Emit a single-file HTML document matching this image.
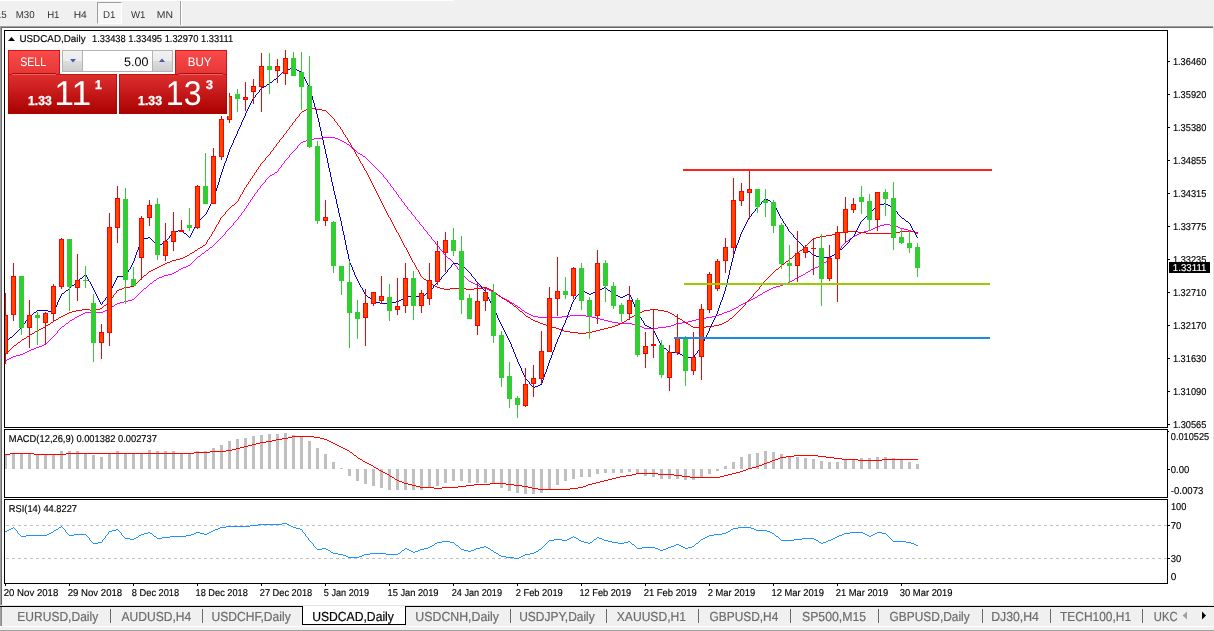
<!DOCTYPE html>
<html><head><meta charset="utf-8"><title>USDCAD,Daily</title>
<style>
html,body{margin:0;padding:0;background:#fff;}
body{width:1214px;height:631px;position:relative;overflow:hidden;font-family:"Liberation Sans",sans-serif;}
div{position:absolute;white-space:nowrap;}
svg{position:absolute;left:0;top:0;}
svg text{font-family:"Liberation Sans",sans-serif;text-rendering:geometricPrecision;}
</style></head><body>
<div style="left:0;top:0;width:1214px;height:26px;background:#f0f0f0;"></div>
<div style="left:0;top:0;width:454px;height:1px;background:#fff;"></div>
<div style="left:97px;top:2px;width:25px;height:22px;background:#f7f7f7;border-top:1px solid #a0a0a0;border-left:1px solid #a0a0a0;border-right:1px solid #fff;border-bottom:1px solid #fff;box-sizing:border-box"></div>
<div style="left:180px;top:1px;width:1px;height:24px;background:#a0a0a0"></div>
<div style="left:181px;top:1px;width:1px;height:24px;background:#fff"></div>
<div style="left:0;top:26px;width:1213px;height:1px;background:#a0a0a0"></div>
<div style="left:1px;top:27px;width:1212px;height:1px;background:#696969"></div>
<div style="left:0;top:26px;width:1px;height:580px;background:#a0a0a0"></div>
<div style="left:1px;top:27px;width:1px;height:579px;background:#696969"></div>
<div style="left:1213px;top:26px;width:1px;height:580px;background:#e3e3e3"></div>
<div style="left:0;top:605px;width:1214px;height:1px;background:#e3e3e3"></div>
<div style="left:0;top:606px;width:1214px;height:20px;background:#f0f0f0;"></div>
<div style="left:0;top:606px;width:1214px;height:1px;background:#000"></div>
<div style="left:0;top:626px;width:1214px;height:1px;background:#fff"></div>
<div style="left:0;top:627px;width:1214px;height:3px;background:#f0f0f0"></div>
<div style="left:0;top:630px;width:1214px;height:1px;background:#a0a0a0"></div>
<div style="left:0;top:607px;width:1px;height:19px;background:#a0a0a0"></div>
<div style="left:1px;top:607px;width:1px;height:19px;background:#8a8a8a"></div>
<div style="left:302px;top:606px;width:104px;height:19px;background:#fff;border-left:1px solid #000;border-right:1px solid #000;border-bottom:1px solid #000;box-sizing:border-box"></div>
<div style="left:1178px;top:607px;width:36px;height:19px;background:#f0f0f0"></div>
<svg width="1214" height="631" viewBox="0 0 1214 631" shape-rendering="crispEdges">
<defs><clipPath id="cp"><rect x="5" y="31" width="1162" height="396"/></clipPath>
<clipPath id="ukc"><rect x="1150" y="606" width="27" height="20"/></clipPath></defs>
<!-- panel borders -->
<g fill="none" stroke="#000" stroke-width="1">
<rect x="4.5" y="30.5" width="1163" height="397"/>
<rect x="4.5" y="429.5" width="1163" height="68"/>
<rect x="4.5" y="499.5" width="1163" height="84"/>
</g>
<rect x="1168" y="61" width="2" height="1" fill="#000"/><rect x="1168" y="94" width="2" height="1" fill="#000"/><rect x="1168" y="127" width="2" height="1" fill="#000"/><rect x="1168" y="160" width="2" height="1" fill="#000"/><rect x="1168" y="193" width="2" height="1" fill="#000"/><rect x="1168" y="226" width="2" height="1" fill="#000"/><rect x="1168" y="259" width="2" height="1" fill="#000"/><rect x="1168" y="292" width="2" height="1" fill="#000"/><rect x="1168" y="325" width="2" height="1" fill="#000"/><rect x="1168" y="358" width="2" height="1" fill="#000"/><rect x="1168" y="391" width="2" height="1" fill="#000"/><rect x="1168" y="424" width="2" height="1" fill="#000"/><rect x="1168" y="431" width="1" height="1" fill="#000"/><rect x="1168" y="469" width="2" height="1" fill="#000"/><rect x="1168" y="525" width="2" height="1" fill="#000"/><rect x="1168" y="558" width="2" height="1" fill="#000"/><rect x="5" y="584" width="1" height="2" fill="#000"/><rect x="69" y="584" width="1" height="2" fill="#000"/><rect x="133" y="584" width="1" height="2" fill="#000"/><rect x="197" y="584" width="1" height="2" fill="#000"/><rect x="261" y="584" width="1" height="2" fill="#000"/><rect x="325" y="584" width="1" height="2" fill="#000"/><rect x="389" y="584" width="1" height="2" fill="#000"/><rect x="453" y="584" width="1" height="2" fill="#000"/><rect x="517" y="584" width="1" height="2" fill="#000"/><rect x="581" y="584" width="1" height="2" fill="#000"/><rect x="645" y="584" width="1" height="2" fill="#000"/><rect x="709" y="584" width="1" height="2" fill="#000"/><rect x="773" y="584" width="1" height="2" fill="#000"/><rect x="837" y="584" width="1" height="2" fill="#000"/><rect x="901" y="584" width="1" height="2" fill="#000"/>
<rect x="110" y="609" width="1" height="14" fill="#6a6a6a"/><rect x="202" y="609" width="1" height="14" fill="#6a6a6a"/><rect x="510" y="609" width="1" height="14" fill="#6a6a6a"/><rect x="606" y="609" width="1" height="14" fill="#6a6a6a"/><rect x="698" y="609" width="1" height="14" fill="#6a6a6a"/><rect x="790" y="609" width="1" height="14" fill="#6a6a6a"/><rect x="878" y="609" width="1" height="14" fill="#6a6a6a"/><rect x="982" y="609" width="1" height="14" fill="#6a6a6a"/><rect x="1050" y="609" width="1" height="14" fill="#6a6a6a"/><rect x="1142" y="609" width="1" height="14" fill="#6a6a6a"/>
<g clip-path="url(#cp)">
<path fill="#ff00ff" d="M5 360h2v1h-2zM7 359h2v1h-2zM9 358h2v1h-2zM11 357h2v1h-2zM13 356h3v1h-3zM16 355h4v1h-4zM20 354h3v1h-3zM23 353h2v1h-2zM25 352h2v1h-2zM27 351h2v1h-2zM29 350h2v1h-2zM31 349h3v1h-3zM34 348h2v1h-2zM36 347h3v1h-3zM39 346h3v1h-3zM42 345h2v1h-2zM44 344h2v1h-2zM46 343h1v1h-1zM47 342h1v1h-1zM48 341h1v1h-1zM49 340h1v1h-1zM50 339h1v1h-1zM51 338h1v1h-1zM52 337h1v1h-1zM53 336h1v1h-1zM54 335h1v1h-1zM55 334h1v1h-1zM56 333h1v1h-1zM57 331h1v2h-1zM58 330h1v1h-1zM59 329h1v1h-1zM60 328h1v1h-1zM61 327h1v1h-1zM62 326h2v1h-2zM64 325h1v1h-1zM65 324h1v1h-1zM66 323h2v1h-2zM68 322h1v1h-1zM69 321h1v1h-1zM70 320h2v1h-2zM72 319h2v1h-2zM74 318h1v1h-1zM75 317h2v1h-2zM77 316h2v1h-2zM79 315h2v1h-2zM81 314h2v1h-2zM83 313h2v1h-2zM85 312h18v1h-18zM103 311h2v1h-2zM105 310h2v1h-2zM107 309h2v1h-2zM109 308h1v1h-1zM110 307h2v1h-2zM112 306h2v1h-2zM114 305h1v1h-1zM115 304h2v1h-2zM117 303h3v1h-3zM120 302h4v1h-4zM124 301h4v1h-4zM128 300h4v1h-4zM132 299h2v1h-2zM134 298h1v1h-1zM135 297h1v1h-1zM136 296h1v1h-1zM137 295h1v1h-1zM138 294h1v1h-1zM139 293h1v1h-1zM140 292h1v1h-1zM141 291h1v1h-1zM142 290h1v1h-1zM143 289h1v1h-1zM144 288h2v1h-2zM146 287h1v1h-1zM147 286h1v1h-1zM148 285h1v1h-1zM149 284h1v1h-1zM150 283h2v1h-2zM152 282h1v1h-1zM153 281h1v1h-1zM154 280h2v1h-2zM156 279h1v1h-1zM157 278h2v1h-2zM159 277h3v1h-3zM162 276h2v1h-2zM164 275h4v1h-4zM168 274h4v1h-4zM172 273h2v1h-2zM174 272h2v1h-2zM176 271h2v1h-2zM178 270h1v1h-1zM179 269h2v1h-2zM181 268h2v1h-2zM183 267h3v1h-3zM186 266h2v1h-2zM188 265h2v1h-2zM190 264h1v1h-1zM191 263h1v1h-1zM192 262h1v1h-1zM193 261h1v1h-1zM194 260h1v1h-1zM195 259h1v1h-1zM196 258h1v1h-1zM197 257h1v1h-1zM198 256h2v1h-2zM200 255h1v1h-1zM201 254h1v1h-1zM202 253h2v1h-2zM204 252h1v1h-1zM205 251h1v1h-1zM206 250h2v1h-2zM208 249h1v1h-1zM209 248h1v1h-1zM210 247h2v1h-2zM212 246h1v1h-1zM213 245h1v1h-1zM214 244h1v1h-1zM215 243h1v1h-1zM216 242h1v1h-1zM217 241h1v1h-1zM218 240h1v1h-1zM219 239h1v1h-1zM220 238h1v1h-1zM221 237h1v1h-1zM222 236h1v1h-1zM223 235h1v1h-1zM224 234h1v1h-1zM225 232h1v2h-1zM226 231h1v1h-1zM227 230h1v1h-1zM228 229h1v1h-1zM229 228h1v1h-1zM230 227h1v1h-1zM231 226h1v1h-1zM232 225h1v1h-1zM233 223h1v2h-1zM234 222h1v1h-1zM235 221h1v1h-1zM236 220h1v1h-1zM237 219h1v1h-1zM238 217h1v2h-1zM239 216h1v1h-1zM240 215h1v1h-1zM241 213h1v2h-1zM242 212h1v1h-1zM243 211h1v1h-1zM244 209h1v2h-1zM245 208h1v1h-1zM246 206h1v2h-1zM247 205h1v1h-1zM248 203h1v2h-1zM249 202h1v1h-1zM250 200h1v2h-1zM251 199h1v1h-1zM252 197h1v2h-1zM253 196h1v1h-1zM254 194h1v2h-1zM255 193h1v1h-1zM256 192h1v1h-1zM257 190h1v2h-1zM258 189h1v1h-1zM259 188h1v1h-1zM260 186h1v2h-1zM261 185h1v1h-1zM262 184h1v1h-1zM263 183h1v1h-1zM264 182h1v1h-1zM265 180h1v2h-1zM266 179h1v1h-1zM267 178h1v1h-1zM268 177h1v1h-1zM269 176h1v1h-1zM270 175h2v1h-2zM272 174h2v1h-2zM274 173h1v1h-1zM275 172h2v1h-2zM277 171h1v1h-1zM278 169h1v2h-1zM279 168h1v1h-1zM280 167h1v1h-1zM281 165h1v2h-1zM282 164h1v1h-1zM283 163h1v1h-1zM284 161h1v2h-1zM285 160h1v1h-1zM286 159h1v1h-1zM287 158h1v1h-1zM288 157h1v1h-1zM289 155h1v2h-1zM290 154h1v1h-1zM291 153h1v1h-1zM292 152h1v1h-1zM293 151h1v1h-1zM294 150h1v1h-1zM295 149h1v1h-1zM296 148h1v1h-1zM297 146h1v2h-1zM298 145h1v1h-1zM299 144h1v1h-1zM300 143h1v1h-1zM301 142h2v1h-2zM303 141h3v1h-3zM306 140h2v1h-2zM308 139h6v1h-6zM314 138h8v1h-8zM322 137h13v1h-13zM335 138h3v1h-3zM338 139h2v1h-2zM340 140h2v1h-2zM342 141h2v1h-2zM344 142h2v1h-2zM346 143h1v1h-1zM347 144h2v1h-2zM349 145h1v1h-1zM350 146h1v1h-1zM351 147h1v1h-1zM352 148h2v1h-2zM354 149h1v1h-1zM355 150h1v1h-1zM356 151h1v1h-1zM357 152h1v1h-1zM358 153h2v1h-2zM360 154h2v1h-2zM362 155h1v1h-1zM363 156h2v1h-2zM365 157h1v1h-1zM366 158h1v1h-1zM367 159h1v1h-1zM368 160h1v1h-1zM369 161h1v1h-1zM370 162h1v1h-1zM371 163h1v1h-1zM372 164h1v1h-1zM373 165h1v1h-1zM374 166h1v1h-1zM375 167h1v1h-1zM376 168h1v1h-1zM377 169h1v1h-1zM378 170h1v1h-1zM379 171h1v1h-1zM380 172h1v1h-1zM381 173h1v1h-1zM382 174h1v1h-1zM383 175h1v2h-1zM384 177h1v1h-1zM385 178h1v1h-1zM386 179h1v1h-1zM387 180h1v2h-1zM388 182h1v1h-1zM389 183h1v1h-1zM390 184h1v2h-1zM391 186h1v1h-1zM392 187h1v1h-1zM393 188h1v2h-1zM394 190h1v1h-1zM395 191h1v1h-1zM396 192h1v2h-1zM397 194h1v1h-1zM398 195h1v2h-1zM399 197h1v1h-1zM400 198h1v1h-1zM401 199h1v2h-1zM402 201h1v1h-1zM403 202h1v1h-1zM404 203h1v2h-1zM405 205h1v1h-1zM406 206h1v1h-1zM407 207h1v2h-1zM408 209h1v1h-1zM409 210h1v1h-1zM410 211h1v1h-1zM411 212h1v2h-1zM412 214h1v1h-1zM413 215h1v1h-1zM414 216h1v1h-1zM415 217h1v2h-1zM416 219h1v1h-1zM417 220h1v1h-1zM418 221h1v1h-1zM419 222h1v2h-1zM420 224h1v1h-1zM421 225h1v1h-1zM422 226h1v1h-1zM423 227h1v2h-1zM424 229h1v1h-1zM425 230h1v1h-1zM426 231h1v1h-1zM427 232h1v2h-1zM428 234h1v1h-1zM429 235h1v1h-1zM430 236h1v1h-1zM431 237h1v2h-1zM432 239h1v1h-1zM433 240h1v1h-1zM434 241h1v1h-1zM435 242h1v2h-1zM436 244h1v1h-1zM437 245h1v1h-1zM438 246h1v1h-1zM439 247h1v2h-1zM440 249h1v1h-1zM441 250h1v1h-1zM442 251h1v1h-1zM443 252h1v2h-1zM444 254h1v1h-1zM445 255h1v1h-1zM446 256h1v1h-1zM447 257h1v1h-1zM448 258h2v1h-2zM450 259h1v1h-1zM451 260h1v1h-1zM452 261h1v1h-1zM453 262h1v1h-1zM454 263h1v2h-1zM455 265h1v1h-1zM456 266h1v1h-1zM457 267h1v2h-1zM458 269h1v1h-1zM459 270h1v1h-1zM460 271h1v2h-1zM461 273h1v1h-1zM462 274h1v1h-1zM463 275h1v1h-1zM464 276h1v1h-1zM465 277h1v1h-1zM466 278h1v1h-1zM467 279h1v1h-1zM468 280h1v1h-1zM469 281h2v1h-2zM471 282h2v1h-2zM473 283h2v1h-2zM475 284h2v1h-2zM477 285h2v1h-2zM479 286h3v1h-3zM482 287h2v1h-2zM484 288h3v1h-3zM487 289h2v1h-2zM489 290h2v1h-2zM491 291h2v1h-2zM493 292h1v1h-1zM494 293h2v1h-2zM496 294h2v1h-2zM498 295h1v1h-1zM499 296h2v1h-2zM501 297h2v1h-2zM503 298h2v1h-2zM505 299h2v1h-2zM507 300h2v1h-2zM509 301h1v1h-1zM510 302h2v1h-2zM512 303h2v1h-2zM514 304h1v1h-1zM515 305h2v1h-2zM517 306h1v1h-1zM518 307h2v1h-2zM520 308h1v1h-1zM521 309h1v1h-1zM522 310h2v1h-2zM524 311h1v1h-1zM525 312h2v1h-2zM527 313h2v1h-2zM529 314h2v1h-2zM531 315h2v1h-2zM533 316h5v1h-5zM538 317h24v1h-24zM562 316h8v1h-8zM570 315h16v1h-16zM586 316h6v1h-6zM592 317h4v1h-4zM596 318h4v1h-4zM600 319h4v1h-4zM604 320h4v1h-4zM608 321h4v1h-4zM612 322h6v1h-6zM618 323h14v1h-14zM632 324h4v1h-4zM636 325h3v1h-3zM639 326h3v1h-3zM642 327h2v1h-2zM644 328h14v1h-14zM658 327h8v1h-8zM666 326h5v1h-5zM671 325h3v1h-3zM674 324h2v1h-2zM676 323h6v1h-6zM682 322h6v1h-6zM688 321h4v1h-4zM692 320h4v1h-4zM696 319h4v1h-4zM700 318h6v1h-6zM706 317h6v1h-6zM712 316h4v1h-4zM716 315h3v1h-3zM719 314h3v1h-3zM722 313h2v1h-2zM724 312h3v1h-3zM727 311h3v1h-3zM730 310h2v1h-2zM732 309h2v1h-2zM734 308h2v1h-2zM736 307h2v1h-2zM738 306h1v1h-1zM739 305h2v1h-2zM741 304h2v1h-2zM743 303h2v1h-2zM745 302h2v1h-2zM747 301h2v1h-2zM749 300h2v1h-2zM751 299h2v1h-2zM753 298h2v1h-2zM755 297h2v1h-2zM757 296h1v1h-1zM758 295h2v1h-2zM760 294h2v1h-2zM762 293h1v1h-1zM763 292h2v1h-2zM765 291h2v1h-2zM767 290h2v1h-2zM769 289h2v1h-2zM771 288h2v1h-2zM773 287h3v1h-3zM776 286h4v1h-4zM780 285h3v1h-3zM783 284h3v1h-3zM786 283h2v1h-2zM788 282h2v1h-2zM790 281h2v1h-2zM792 280h2v1h-2zM794 279h1v1h-1zM795 278h2v1h-2zM797 277h2v1h-2zM799 276h2v1h-2zM801 275h2v1h-2zM803 274h2v1h-2zM805 273h1v1h-1zM806 272h2v1h-2zM808 271h2v1h-2zM810 270h1v1h-1zM811 269h2v1h-2zM813 268h2v1h-2zM815 267h3v1h-3zM818 266h2v1h-2zM820 265h2v1h-2zM822 264h1v1h-1zM823 263h1v1h-1zM824 262h2v1h-2zM826 261h1v1h-1zM827 260h1v1h-1zM828 259h1v1h-1zM829 258h1v1h-1zM830 257h1v1h-1zM831 256h1v1h-1zM832 255h2v1h-2zM834 254h1v1h-1zM835 253h1v1h-1zM836 252h1v1h-1zM837 251h1v1h-1zM838 250h1v1h-1zM839 249h1v1h-1zM840 248h1v1h-1zM841 246h1v2h-1zM842 245h1v1h-1zM843 244h1v1h-1zM844 243h1v1h-1zM845 242h1v1h-1zM846 241h2v1h-2zM848 240h1v1h-1zM849 239h1v1h-1zM850 238h2v1h-2zM852 237h1v1h-1zM853 236h2v1h-2zM855 235h2v1h-2zM857 234h2v1h-2zM859 233h2v1h-2zM861 232h3v1h-3zM864 231h4v1h-4zM868 230h3v1h-3zM871 229h2v1h-2zM873 228h2v1h-2zM875 227h2v1h-2zM877 226h3v1h-3zM880 225h4v1h-4zM884 224h6v1h-6zM890 225h5v1h-5zM895 226h3v1h-3zM898 227h2v1h-2zM900 228h4v1h-4zM904 229h4v1h-4zM908 230h3v1h-3zM911 231h3v1h-3zM914 232h2v1h-2zM916 233h2v1h-2z"/>
<path fill="#ff0000" d="M5 354h1v1h-1zM6 353h1v1h-1zM7 352h1v1h-1zM8 351h1v1h-1zM9 350h1v1h-1zM10 349h1v1h-1zM11 348h1v1h-1zM12 347h1v1h-1zM13 346h1v1h-1zM14 345h2v1h-2zM16 344h1v1h-1zM17 343h1v1h-1zM18 342h2v1h-2zM20 341h1v1h-1zM21 340h1v1h-1zM22 339h2v1h-2zM24 338h2v1h-2zM26 337h1v1h-1zM27 336h2v1h-2zM29 335h1v1h-1zM30 334h2v1h-2zM32 333h2v1h-2zM34 332h1v1h-1zM35 331h2v1h-2zM37 330h2v1h-2zM39 329h2v1h-2zM41 328h2v1h-2zM43 327h2v1h-2zM45 326h1v1h-1zM46 325h2v1h-2zM48 324h2v1h-2zM50 323h1v1h-1zM51 322h2v1h-2zM53 321h1v1h-1zM54 320h2v1h-2zM56 319h2v1h-2zM58 318h1v1h-1zM59 317h2v1h-2zM61 316h2v1h-2zM63 315h2v1h-2zM65 314h2v1h-2zM67 313h2v1h-2zM69 312h3v1h-3zM72 311h4v1h-4zM76 310h6v1h-6zM82 309h8v1h-8zM90 310h6v1h-6zM96 309h4v1h-4zM100 308h2v1h-2zM102 307h1v1h-1zM103 306h1v1h-1zM104 305h2v1h-2zM106 304h1v1h-1zM107 303h1v1h-1zM108 302h1v1h-1zM109 301h1v1h-1zM110 299h1v2h-1zM111 298h1v1h-1zM112 297h1v1h-1zM113 295h1v2h-1zM114 294h1v1h-1zM115 293h1v1h-1zM116 291h1v2h-1zM117 290h2v1h-2zM119 289h3v1h-3zM122 288h2v1h-2zM124 287h6v1h-6zM130 286h4v1h-4zM134 285h1v1h-1zM135 284h1v1h-1zM136 283h1v1h-1zM137 282h1v1h-1zM138 281h1v1h-1zM139 280h1v1h-1zM140 279h1v1h-1zM141 278h1v1h-1zM142 277h1v1h-1zM143 276h1v1h-1zM144 275h2v1h-2zM146 274h1v1h-1zM147 273h1v1h-1zM148 272h1v1h-1zM149 271h2v1h-2zM151 270h2v1h-2zM153 269h2v1h-2zM155 268h2v1h-2zM157 267h2v1h-2zM159 266h2v1h-2zM161 265h2v1h-2zM163 264h2v1h-2zM165 263h2v1h-2zM167 262h3v1h-3zM170 261h2v1h-2zM172 260h4v1h-4zM176 259h4v1h-4zM180 258h3v1h-3zM183 257h2v1h-2zM185 256h2v1h-2zM187 255h2v1h-2zM189 254h1v1h-1zM190 253h2v1h-2zM192 252h2v1h-2zM194 251h1v1h-1zM195 250h2v1h-2zM197 249h1v1h-1zM198 248h2v1h-2zM200 247h2v1h-2zM202 246h1v1h-1zM203 245h2v1h-2zM205 244h1v1h-1zM206 242h1v2h-1zM207 240h1v2h-1zM208 239h1v1h-1zM209 237h1v2h-1zM210 236h1v1h-1zM211 234h1v2h-1zM212 232h1v2h-1zM213 231h1v1h-1zM214 229h1v2h-1zM215 227h1v2h-1zM216 225h1v2h-1zM217 224h1v1h-1zM218 222h1v2h-1zM219 220h1v2h-1zM220 218h1v2h-1zM221 217h1v1h-1zM222 216h1v1h-1zM223 215h1v1h-1zM224 214h1v1h-1zM225 212h1v2h-1zM226 211h1v1h-1zM227 210h1v1h-1zM228 209h1v1h-1zM229 208h1v1h-1zM230 207h1v1h-1zM231 206h1v1h-1zM232 205h2v1h-2zM234 204h1v1h-1zM235 203h1v1h-1zM236 202h1v1h-1zM237 201h1v1h-1zM238 199h1v2h-1zM239 197h1v2h-1zM240 195h1v2h-1zM241 194h1v1h-1zM242 192h1v2h-1zM243 190h1v2h-1zM244 188h1v2h-1zM245 187h1v1h-1zM246 185h1v2h-1zM247 184h1v1h-1zM248 182h1v2h-1zM249 181h1v1h-1zM250 179h1v2h-1zM251 178h1v1h-1zM252 176h1v2h-1zM253 175h1v1h-1zM254 173h1v2h-1zM255 172h1v1h-1zM256 170h1v2h-1zM257 169h1v1h-1zM258 167h1v2h-1zM259 166h1v1h-1zM260 164h1v2h-1zM261 163h1v1h-1zM262 162h1v1h-1zM263 161h1v1h-1zM264 160h1v1h-1zM265 158h1v2h-1zM266 157h1v1h-1zM267 156h1v1h-1zM268 155h1v1h-1zM269 154h1v1h-1zM270 152h1v2h-1zM271 151h1v1h-1zM272 150h1v1h-1zM273 148h1v2h-1zM274 147h1v1h-1zM275 146h1v1h-1zM276 144h1v2h-1zM277 143h1v1h-1zM278 142h1v1h-1zM279 140h1v2h-1zM280 139h1v1h-1zM281 138h1v1h-1zM282 137h1v1h-1zM283 135h1v2h-1zM284 134h1v1h-1zM285 133h1v1h-1zM286 131h1v2h-1zM287 130h1v1h-1zM288 129h1v1h-1zM289 127h1v2h-1zM290 126h1v1h-1zM291 125h1v1h-1zM292 123h1v2h-1zM293 122h1v1h-1zM294 121h1v1h-1zM295 119h1v2h-1zM296 118h1v1h-1zM297 117h1v1h-1zM298 116h1v1h-1zM299 114h1v2h-1zM300 113h1v1h-1zM301 112h1v1h-1zM302 111h2v1h-2zM304 110h2v1h-2zM306 109h1v1h-1zM307 108h2v1h-2zM309 107h3v1h-3zM312 108h4v1h-4zM316 109h6v1h-6zM322 110h4v1h-4zM326 111h1v1h-1zM327 112h1v1h-1zM328 113h1v1h-1zM329 114h1v1h-1zM330 115h1v1h-1zM331 116h1v1h-1zM332 117h1v1h-1zM333 118h1v1h-1zM334 119h1v2h-1zM335 121h1v1h-1zM336 122h1v1h-1zM337 123h1v2h-1zM338 125h1v1h-1zM339 126h1v1h-1zM340 127h1v2h-1zM341 129h1v1h-1zM342 130h1v2h-1zM343 132h1v2h-1zM344 134h1v1h-1zM345 135h1v2h-1zM346 137h1v1h-1zM347 138h1v2h-1zM348 140h1v2h-1zM349 142h1v1h-1zM350 143h1v2h-1zM351 145h1v2h-1zM352 147h1v2h-1zM353 149h1v1h-1zM354 150h1v2h-1zM355 152h1v2h-1zM356 154h1v2h-1zM357 156h1v1h-1zM358 157h1v2h-1zM359 159h1v2h-1zM360 161h1v2h-1zM361 163h1v1h-1zM362 164h1v2h-1zM363 166h1v2h-1zM364 168h1v2h-1zM365 170h1v1h-1zM366 171h1v2h-1zM367 173h1v2h-1zM368 175h1v2h-1zM369 177h1v2h-1zM370 179h1v2h-1zM371 181h1v2h-1zM372 183h1v2h-1zM373 185h1v2h-1zM374 187h1v2h-1zM375 189h1v2h-1zM376 191h1v2h-1zM377 193h1v2h-1zM378 195h1v2h-1zM379 197h1v2h-1zM380 199h1v2h-1zM381 201h1v2h-1zM382 203h1v2h-1zM383 205h1v2h-1zM384 207h1v2h-1zM385 209h1v2h-1zM386 211h1v2h-1zM387 213h1v2h-1zM388 215h1v2h-1zM389 217h1v1h-1zM390 218h1v2h-1zM391 220h1v2h-1zM392 222h1v2h-1zM393 224h1v2h-1zM394 226h1v2h-1zM395 228h1v2h-1zM396 230h1v2h-1zM397 232h1v1h-1zM398 233h1v2h-1zM399 235h1v2h-1zM400 237h1v2h-1zM401 239h1v2h-1zM402 241h1v2h-1zM403 243h1v2h-1zM404 245h1v2h-1zM405 247h1v1h-1zM406 248h1v2h-1zM407 250h1v2h-1zM408 252h1v2h-1zM409 254h1v2h-1zM410 256h1v2h-1zM411 258h1v2h-1zM412 260h1v2h-1zM413 262h1v1h-1zM414 263h1v2h-1zM415 265h1v2h-1zM416 267h1v2h-1zM417 269h1v1h-1zM418 270h1v2h-1zM419 272h1v2h-1zM420 274h1v2h-1zM421 276h1v1h-1zM422 277h1v1h-1zM423 278h1v1h-1zM424 279h2v1h-2zM426 280h1v1h-1zM427 281h1v1h-1zM428 282h1v1h-1zM429 283h2v1h-2zM431 284h2v1h-2zM433 285h2v1h-2zM435 286h2v1h-2zM437 287h3v1h-3zM440 288h4v1h-4zM444 289h6v1h-6zM450 288h16v1h-16zM466 289h8v1h-8zM474 288h8v1h-8zM482 287h5v1h-5zM487 288h2v1h-2zM489 289h2v1h-2zM491 290h2v1h-2zM493 291h1v1h-1zM494 292h2v1h-2zM496 293h1v1h-1zM497 294h1v1h-1zM498 295h2v1h-2zM500 296h1v1h-1zM501 297h1v1h-1zM502 298h2v1h-2zM504 299h2v1h-2zM506 300h1v1h-1zM507 301h2v1h-2zM509 302h1v1h-1zM510 303h2v1h-2zM512 304h1v1h-1zM513 305h1v1h-1zM514 306h2v1h-2zM516 307h1v1h-1zM517 308h1v1h-1zM518 309h1v1h-1zM519 310h1v1h-1zM520 311h2v1h-2zM522 312h1v1h-1zM523 313h1v1h-1zM524 314h1v1h-1zM525 315h1v1h-1zM526 316h2v1h-2zM528 317h2v1h-2zM530 318h1v1h-1zM531 319h2v1h-2zM533 320h2v1h-2zM535 321h3v1h-3zM538 322h2v1h-2zM540 323h3v1h-3zM543 324h3v1h-3zM546 325h2v1h-2zM548 326h4v1h-4zM552 327h4v1h-4zM556 328h3v1h-3zM559 329h3v1h-3zM562 330h2v1h-2zM564 331h6v1h-6zM570 332h8v1h-8zM578 333h8v1h-8zM586 332h6v1h-6zM592 331h4v1h-4zM596 330h4v1h-4zM600 329h4v1h-4zM604 328h4v1h-4zM608 327h4v1h-4zM612 326h3v1h-3zM615 325h3v1h-3zM618 324h2v1h-2zM620 323h2v1h-2zM622 322h2v1h-2zM624 321h2v1h-2zM626 320h1v1h-1zM627 319h2v1h-2zM629 318h1v1h-1zM630 317h2v1h-2zM632 316h2v1h-2zM634 315h1v1h-1zM635 314h2v1h-2zM637 313h2v1h-2zM639 312h3v1h-3zM642 311h2v1h-2zM644 310h6v1h-6zM650 309h8v1h-8zM658 310h6v1h-6zM664 311h4v1h-4zM668 312h2v1h-2zM670 313h2v1h-2zM672 314h2v1h-2zM674 315h1v1h-1zM675 316h2v1h-2zM677 317h1v1h-1zM678 318h2v1h-2zM680 319h2v1h-2zM682 320h1v1h-1zM683 321h2v1h-2zM685 322h1v1h-1zM686 323h2v1h-2zM688 324h2v1h-2zM690 325h1v1h-1zM691 326h2v1h-2zM693 327h13v1h-13zM706 326h8v1h-8zM714 325h5v1h-5zM719 324h3v1h-3zM722 323h2v1h-2zM724 322h2v1h-2zM726 321h2v1h-2zM728 320h1v1h-1zM729 319h1v1h-1zM730 318h2v1h-2zM732 317h1v1h-1zM733 316h1v1h-1zM734 315h1v1h-1zM735 314h1v1h-1zM736 313h1v1h-1zM737 312h1v1h-1zM738 311h1v1h-1zM739 310h1v1h-1zM740 309h1v1h-1zM741 308h1v1h-1zM742 307h1v1h-1zM743 306h1v1h-1zM744 305h1v1h-1zM745 303h1v2h-1zM746 302h1v1h-1zM747 301h1v1h-1zM748 300h1v1h-1zM749 299h1v1h-1zM750 298h1v1h-1zM751 297h1v1h-1zM752 296h1v1h-1zM753 294h1v2h-1zM754 293h1v1h-1zM755 292h1v1h-1zM756 291h1v1h-1zM757 290h1v1h-1zM758 289h1v1h-1zM759 287h1v2h-1zM760 286h1v1h-1zM761 285h1v1h-1zM762 284h1v1h-1zM763 282h1v2h-1zM764 281h1v1h-1zM765 280h1v1h-1zM766 279h1v1h-1zM767 278h1v1h-1zM768 277h1v1h-1zM769 276h1v1h-1zM770 275h1v1h-1zM771 274h1v1h-1zM772 273h1v1h-1zM773 272h1v1h-1zM774 271h1v1h-1zM775 270h1v1h-1zM776 269h2v1h-2zM778 268h1v1h-1zM779 267h1v1h-1zM780 266h1v1h-1zM781 265h1v1h-1zM782 264h2v1h-2zM784 263h1v1h-1zM785 262h1v1h-1zM786 261h2v1h-2zM788 260h1v1h-1zM789 259h1v1h-1zM790 258h2v1h-2zM792 257h1v1h-1zM793 256h1v1h-1zM794 255h2v1h-2zM796 254h1v1h-1zM797 253h1v1h-1zM798 252h1v1h-1zM799 251h1v1h-1zM800 250h2v1h-2zM802 249h1v1h-1zM803 248h1v1h-1zM804 247h1v1h-1zM805 246h1v1h-1zM806 245h1v1h-1zM807 244h1v1h-1zM808 243h1v1h-1zM809 242h1v1h-1zM810 241h1v1h-1zM811 240h1v1h-1zM812 239h1v1h-1zM813 238h3v1h-3zM816 237h4v1h-4zM820 236h6v1h-6zM826 235h6v1h-6zM832 234h4v1h-4zM836 233h4v1h-4zM840 232h4v1h-4zM844 231h14v1h-14zM858 232h8v1h-8zM866 233h30v1h-30zM896 232h4v1h-4zM900 231h14v1h-14zM914 232h4v1h-4z"/>
<path fill="#0000cd" d="M5 341h1v1h-1zM6 340h2v1h-2zM8 339h1v1h-1zM9 338h1v1h-1zM10 337h2v1h-2zM12 336h1v1h-1zM13 335h1v1h-1zM14 334h1v1h-1zM15 333h1v1h-1zM16 332h1v1h-1zM17 331h1v1h-1zM18 330h1v1h-1zM19 329h1v1h-1zM20 328h1v1h-1zM21 327h1v1h-1zM22 325h1v2h-1zM23 324h1v1h-1zM24 323h1v1h-1zM25 321h1v2h-1zM26 320h1v1h-1zM27 319h1v1h-1zM28 317h1v2h-1zM29 316h1v1h-1zM30 315h2v1h-2zM32 314h1v1h-1zM33 313h1v1h-1zM34 312h2v1h-2zM36 311h1v1h-1zM37 310h11v1h-11zM48 311h4v1h-4zM52 312h1v1h-1zM53 311h1v2h-1zM54 309h1v2h-1zM55 307h1v2h-1zM56 305h1v2h-1zM57 302h1v3h-1zM58 300h1v2h-1zM59 298h1v2h-1zM60 296h1v2h-1zM61 294h1v2h-1zM62 293h2v1h-2zM64 292h1v1h-1zM65 291h1v1h-1zM66 290h2v1h-2zM68 289h1v1h-1zM69 288h1v1h-1zM70 287h1v1h-1zM71 286h1v1h-1zM72 285h2v1h-2zM74 284h1v1h-1zM75 283h1v1h-1zM76 282h1v1h-1zM77 281h1v1h-1zM78 280h1v1h-1zM79 279h1v1h-1zM80 278h2v1h-2zM82 277h1v1h-1zM83 276h1v1h-1zM84 275h1v1h-1zM85 274h1v1h-1zM86 275h1v2h-1zM87 277h1v2h-1zM88 279h1v2h-1zM89 281h1v1h-1zM90 282h1v2h-1zM91 284h1v2h-1zM92 286h1v2h-1zM93 288h1v2h-1zM94 290h1v2h-1zM95 292h1v2h-1zM96 294h1v2h-1zM97 296h1v2h-1zM98 298h1v2h-1zM99 300h1v2h-1zM100 302h1v2h-1zM101 304h1v1h-1zM102 302h1v2h-1zM103 301h1v1h-1zM104 300h1v1h-1zM105 298h1v2h-1zM106 297h1v1h-1zM107 296h1v1h-1zM108 294h1v2h-1zM109 292h1v2h-1zM110 290h1v2h-1zM111 288h1v2h-1zM112 286h1v2h-1zM113 284h1v2h-1zM114 282h1v2h-1zM115 280h1v2h-1zM116 278h1v2h-1zM117 276h1v2h-1zM118 276h8v1h-8zM126 274h1v2h-1zM127 272h1v2h-1zM128 270h1v2h-1zM129 269h1v1h-1zM130 267h1v2h-1zM131 265h1v2h-1zM132 263h1v2h-1zM133 261h1v2h-1zM134 258h1v3h-1zM135 255h1v3h-1zM136 252h1v3h-1zM137 250h1v2h-1zM138 247h1v3h-1zM139 244h1v3h-1zM140 241h1v3h-1zM141 239h1v2h-1zM142 239h2v1h-2zM144 238h4v1h-4zM148 237h2v1h-2zM150 238h1v1h-1zM151 239h1v1h-1zM152 240h1v1h-1zM153 241h1v1h-1zM154 242h1v1h-1zM155 243h1v1h-1zM156 244h1v1h-1zM157 245h2v1h-2zM159 244h3v1h-3zM162 243h2v1h-2zM164 242h2v1h-2zM166 240h1v2h-1zM167 239h1v1h-1zM168 238h1v1h-1zM169 236h1v2h-1zM170 235h1v1h-1zM171 234h1v1h-1zM172 232h1v2h-1zM173 231h5v1h-5zM178 230h4v1h-4zM182 231h1v1h-1zM183 232h1v1h-1zM184 233h2v1h-2zM186 234h1v1h-1zM187 235h1v1h-1zM188 236h1v1h-1zM189 237h1v1h-1zM190 235h1v2h-1zM191 233h1v2h-1zM192 231h1v2h-1zM193 229h1v2h-1zM194 227h1v2h-1zM195 225h1v2h-1zM196 223h1v2h-1zM197 222h1v1h-1zM198 221h1v1h-1zM199 220h1v1h-1zM200 219h1v1h-1zM201 218h1v1h-1zM202 217h1v1h-1zM203 216h1v1h-1zM204 215h1v1h-1zM205 214h1v1h-1zM206 212h1v2h-1zM207 210h1v2h-1zM208 208h1v2h-1zM209 206h1v2h-1zM210 204h1v2h-1zM211 202h1v2h-1zM212 200h1v2h-1zM213 198h1v2h-1zM214 195h1v3h-1zM215 191h1v4h-1zM216 188h1v3h-1zM217 185h1v3h-1zM218 182h1v3h-1zM219 178h1v4h-1zM220 175h1v3h-1zM221 172h1v3h-1zM222 169h1v3h-1zM223 166h1v3h-1zM224 163h1v3h-1zM225 161h1v2h-1zM226 158h1v3h-1zM227 155h1v3h-1zM228 152h1v3h-1zM229 149h1v3h-1zM230 147h1v2h-1zM231 145h1v2h-1zM232 143h1v2h-1zM233 140h1v3h-1zM234 138h1v2h-1zM235 136h1v2h-1zM236 134h1v2h-1zM237 131h1v3h-1zM238 129h1v2h-1zM239 127h1v2h-1zM240 125h1v2h-1zM241 122h1v3h-1zM242 120h1v2h-1zM243 118h1v2h-1zM244 116h1v2h-1zM245 113h1v3h-1zM246 111h1v2h-1zM247 109h1v2h-1zM248 107h1v2h-1zM249 105h1v2h-1zM250 103h1v2h-1zM251 101h1v2h-1zM252 99h1v2h-1zM253 98h1v1h-1zM254 97h1v1h-1zM255 95h1v2h-1zM256 94h1v1h-1zM257 93h1v1h-1zM258 92h1v1h-1zM259 90h1v2h-1zM260 89h1v1h-1zM261 88h1v1h-1zM262 87h2v1h-2zM264 86h2v1h-2zM266 85h1v1h-1zM267 84h2v1h-2zM269 83h1v1h-1zM270 82h2v1h-2zM272 81h1v1h-1zM273 80h1v1h-1zM274 79h2v1h-2zM276 78h1v1h-1zM277 77h1v1h-1zM278 76h1v1h-1zM279 75h1v1h-1zM280 74h1v1h-1zM281 73h1v1h-1zM282 72h1v1h-1zM283 71h1v1h-1zM284 70h1v1h-1zM285 69h5v1h-5zM290 68h5v1h-5zM295 69h2v1h-2zM297 70h2v1h-2zM299 71h2v1h-2zM301 72h1v1h-1zM302 73h1v2h-1zM303 75h1v2h-1zM304 77h1v2h-1zM305 79h1v2h-1zM306 81h1v2h-1zM307 83h1v2h-1zM308 85h1v2h-1zM309 87h1v2h-1zM310 89h1v4h-1zM311 93h1v3h-1zM312 96h1v4h-1zM313 100h1v3h-1zM314 103h1v4h-1zM315 107h1v3h-1zM316 110h1v4h-1zM317 114h1v4h-1zM318 118h1v4h-1zM319 122h1v5h-1zM320 127h1v4h-1zM321 131h1v5h-1zM322 136h1v4h-1zM323 140h1v5h-1zM324 145h1v4h-1zM325 149h1v5h-1zM326 154h1v4h-1zM327 158h1v5h-1zM328 163h1v5h-1zM329 168h1v4h-1zM330 172h1v5h-1zM331 177h1v5h-1zM332 182h1v4h-1zM333 186h1v5h-1zM334 191h1v4h-1zM335 195h1v4h-1zM336 199h1v5h-1zM337 204h1v4h-1zM338 208h1v5h-1zM339 213h1v4h-1zM340 217h1v4h-1zM341 221h1v5h-1zM342 226h1v5h-1zM343 231h1v4h-1zM344 235h1v5h-1zM345 240h1v5h-1zM346 245h1v5h-1zM347 250h1v4h-1zM348 254h1v5h-1zM349 259h1v4h-1zM350 263h1v2h-1zM351 265h1v2h-1zM352 267h1v3h-1zM353 270h1v2h-1zM354 272h1v3h-1zM355 275h1v2h-1zM356 277h1v2h-1zM357 279h1v2h-1zM358 281h1v2h-1zM359 283h1v2h-1zM360 285h1v2h-1zM361 287h1v1h-1zM362 288h1v2h-1zM363 290h1v2h-1zM364 292h1v2h-1zM365 294h1v1h-1zM366 295h1v1h-1zM367 296h1v1h-1zM368 297h2v1h-2zM370 298h1v1h-1zM371 299h1v1h-1zM372 300h1v1h-1zM373 301h3v1h-3zM376 302h4v1h-4zM380 303h12v1h-12zM392 302h4v1h-4zM396 301h3v1h-3zM399 300h2v1h-2zM401 299h2v1h-2zM403 298h2v1h-2zM405 297h3v1h-3zM408 296h4v1h-4zM412 295h4v1h-4zM416 296h4v1h-4zM420 297h2v1h-2zM422 296h2v1h-2zM424 295h1v1h-1zM425 294h1v1h-1zM426 293h2v1h-2zM428 292h1v1h-1zM429 291h1v1h-1zM430 290h1v1h-1zM431 289h1v1h-1zM432 288h1v1h-1zM433 286h1v2h-1zM434 285h1v1h-1zM435 284h1v1h-1zM436 283h1v1h-1zM437 282h1v1h-1zM438 281h1v1h-1zM439 280h1v1h-1zM440 279h1v1h-1zM441 277h1v2h-1zM442 276h1v1h-1zM443 275h1v1h-1zM444 274h1v1h-1zM445 273h1v1h-1zM446 272h1v1h-1zM447 270h1v2h-1zM448 269h1v1h-1zM449 268h1v1h-1zM450 267h1v1h-1zM451 265h1v2h-1zM452 264h1v1h-1zM453 263h5v1h-5zM458 264h4v1h-4zM462 265h1v1h-1zM463 266h1v1h-1zM464 267h1v1h-1zM465 268h1v1h-1zM466 269h1v1h-1zM467 270h1v1h-1zM468 271h1v1h-1zM469 272h1v1h-1zM470 273h1v1h-1zM471 274h1v2h-1zM472 276h1v1h-1zM473 277h1v1h-1zM474 278h1v1h-1zM475 279h1v2h-1zM476 281h1v1h-1zM477 282h1v1h-1zM478 283h1v1h-1zM479 284h1v1h-1zM480 285h1v1h-1zM481 286h1v2h-1zM482 288h1v1h-1zM483 289h1v1h-1zM484 290h1v1h-1zM485 291h1v2h-1zM486 293h1v2h-1zM487 295h1v2h-1zM488 297h1v2h-1zM489 299h1v2h-1zM490 301h1v2h-1zM491 303h1v2h-1zM492 305h1v2h-1zM493 307h1v2h-1zM494 309h1v2h-1zM495 311h1v2h-1zM496 313h1v2h-1zM497 315h1v3h-1zM498 318h1v2h-1zM499 320h1v2h-1zM500 322h1v2h-1zM501 324h1v2h-1zM502 326h1v2h-1zM503 328h1v2h-1zM504 330h1v2h-1zM505 332h1v2h-1zM506 334h1v2h-1zM507 336h1v2h-1zM508 338h1v2h-1zM509 340h1v2h-1zM510 342h1v2h-1zM511 344h1v3h-1zM512 347h1v2h-1zM513 349h1v3h-1zM514 352h1v2h-1zM515 354h1v3h-1zM516 357h1v2h-1zM517 359h1v3h-1zM518 362h1v2h-1zM519 364h1v2h-1zM520 366h1v2h-1zM521 368h1v3h-1zM522 371h1v2h-1zM523 373h1v2h-1zM524 375h1v2h-1zM525 377h1v2h-1zM526 379h1v1h-1zM527 380h1v1h-1zM528 381h1v1h-1zM529 382h1v2h-1zM530 384h1v1h-1zM531 385h1v1h-1zM532 386h1v1h-1zM533 387h2v1h-2zM535 386h3v1h-3zM538 385h2v1h-2zM540 384h1v1h-1zM541 383h1v2h-1zM542 380h1v3h-1zM543 377h1v3h-1zM544 374h1v3h-1zM545 372h1v2h-1zM546 369h1v3h-1zM547 366h1v3h-1zM548 363h1v3h-1zM549 360h1v3h-1zM550 358h1v2h-1zM551 355h1v3h-1zM552 352h1v3h-1zM553 350h1v2h-1zM554 347h1v3h-1zM555 344h1v3h-1zM556 342h1v2h-1zM557 339h1v3h-1zM558 337h1v2h-1zM559 335h1v2h-1zM560 332h1v3h-1zM561 330h1v2h-1zM562 327h1v3h-1zM563 325h1v2h-1zM564 323h1v2h-1zM565 320h1v3h-1zM566 318h1v2h-1zM567 315h1v3h-1zM568 312h1v3h-1zM569 310h1v2h-1zM570 307h1v3h-1zM571 304h1v3h-1zM572 302h1v2h-1zM573 300h1v2h-1zM574 299h1v1h-1zM575 297h1v2h-1zM576 296h1v1h-1zM577 295h1v1h-1zM578 294h1v1h-1zM579 292h1v2h-1zM580 291h1v1h-1zM581 290h2v1h-2zM583 291h2v1h-2zM585 292h2v1h-2zM587 293h2v1h-2zM589 294h2v1h-2zM591 293h2v1h-2zM593 292h2v1h-2zM595 291h2v1h-2zM597 290h2v1h-2zM599 289h3v1h-3zM602 288h2v1h-2zM604 287h2v1h-2zM606 288h1v1h-1zM607 289h1v1h-1zM608 290h2v1h-2zM610 291h1v1h-1zM611 292h1v1h-1zM612 293h1v1h-1zM613 294h2v1h-2zM615 295h3v1h-3zM618 296h2v1h-2zM620 297h3v1h-3zM623 296h2v1h-2zM625 295h2v1h-2zM627 294h2v1h-2zM629 293h1v2h-1zM630 295h1v2h-1zM631 297h1v2h-1zM632 299h1v3h-1zM633 302h1v2h-1zM634 304h1v3h-1zM635 307h1v2h-1zM636 309h1v2h-1zM637 311h1v2h-1zM638 313h1v2h-1zM639 315h1v2h-1zM640 317h1v1h-1zM641 318h1v2h-1zM642 320h1v1h-1zM643 321h1v2h-1zM644 323h1v2h-1zM645 325h2v1h-2zM647 326h2v1h-2zM649 327h2v1h-2zM651 328h2v1h-2zM653 329h1v2h-1zM654 331h1v2h-1zM655 333h1v2h-1zM656 335h1v2h-1zM657 337h1v2h-1zM658 339h1v2h-1zM659 341h1v2h-1zM660 343h1v2h-1zM661 345h1v1h-1zM662 346h1v1h-1zM663 347h1v1h-1zM664 348h2v1h-2zM666 349h1v1h-1zM667 350h1v1h-1zM668 351h1v1h-1zM669 352h9v1h-9zM678 353h2v1h-2zM680 354h2v1h-2zM682 355h1v1h-1zM683 356h2v1h-2zM685 357h9v1h-9zM694 355h1v2h-1zM695 354h1v1h-1zM696 353h1v1h-1zM697 351h1v2h-1zM698 350h1v1h-1zM699 349h1v1h-1zM700 347h1v2h-1zM701 345h1v2h-1zM702 343h1v2h-1zM703 341h1v2h-1zM704 339h1v2h-1zM705 337h1v2h-1zM706 335h1v2h-1zM707 333h1v2h-1zM708 331h1v2h-1zM709 328h1v3h-1zM710 326h1v2h-1zM711 324h1v2h-1zM712 322h1v2h-1zM713 320h1v2h-1zM714 318h1v2h-1zM715 316h1v2h-1zM716 314h1v2h-1zM717 311h1v3h-1zM718 308h1v3h-1zM719 305h1v3h-1zM720 302h1v3h-1zM721 300h1v2h-1zM722 297h1v3h-1zM723 294h1v3h-1zM724 291h1v3h-1zM725 287h1v4h-1zM726 283h1v4h-1zM727 279h1v4h-1zM728 275h1v4h-1zM729 270h1v5h-1zM730 266h1v4h-1zM731 262h1v4h-1zM732 258h1v4h-1zM733 254h1v4h-1zM734 251h1v3h-1zM735 248h1v3h-1zM736 245h1v3h-1zM737 243h1v2h-1zM738 240h1v3h-1zM739 237h1v3h-1zM740 234h1v3h-1zM741 232h1v2h-1zM742 230h1v2h-1zM743 228h1v2h-1zM744 226h1v2h-1zM745 224h1v2h-1zM746 222h1v2h-1zM747 220h1v2h-1zM748 218h1v2h-1zM749 217h1v1h-1zM750 216h1v1h-1zM751 214h1v2h-1zM752 213h1v1h-1zM753 212h1v1h-1zM754 211h1v1h-1zM755 209h1v2h-1zM756 208h1v1h-1zM757 207h1v1h-1zM758 206h1v1h-1zM759 205h1v1h-1zM760 204h1v1h-1zM761 202h1v2h-1zM762 201h1v1h-1zM763 200h1v1h-1zM764 199h1v1h-1zM765 198h1v1h-1zM766 199h2v1h-2zM768 200h2v1h-2zM770 201h1v1h-1zM771 202h2v1h-2zM773 203h1v1h-1zM774 204h1v2h-1zM775 206h1v2h-1zM776 208h1v2h-1zM777 210h1v2h-1zM778 212h1v2h-1zM779 214h1v2h-1zM780 216h1v2h-1zM781 218h1v1h-1zM782 219h1v2h-1zM783 221h1v2h-1zM784 223h1v1h-1zM785 224h1v2h-1zM786 226h1v1h-1zM787 227h1v2h-1zM788 229h1v2h-1zM789 231h1v1h-1zM790 232h1v1h-1zM791 233h1v1h-1zM792 234h1v1h-1zM793 235h1v2h-1zM794 237h1v1h-1zM795 238h1v1h-1zM796 239h1v1h-1zM797 240h1v1h-1zM798 241h1v1h-1zM799 242h1v1h-1zM800 243h1v1h-1zM801 244h1v1h-1zM802 245h1v1h-1zM803 246h1v1h-1zM804 247h1v1h-1zM805 248h1v1h-1zM806 249h1v1h-1zM807 250h1v1h-1zM808 251h2v1h-2zM810 252h1v1h-1zM811 253h1v1h-1zM812 254h1v1h-1zM813 255h3v1h-3zM816 256h4v1h-4zM820 257h10v1h-10zM830 256h2v1h-2zM832 255h2v1h-2zM834 254h1v1h-1zM835 253h2v1h-2zM837 252h1v1h-1zM838 251h1v1h-1zM839 250h1v1h-1zM840 249h2v1h-2zM842 248h1v1h-1zM843 247h1v1h-1zM844 246h1v1h-1zM845 245h1v1h-1zM846 244h1v1h-1zM847 243h1v1h-1zM848 242h1v1h-1zM849 240h1v2h-1zM850 239h1v1h-1zM851 238h1v1h-1zM852 237h1v1h-1zM853 236h1v1h-1zM854 234h1v2h-1zM855 232h1v2h-1zM856 230h1v2h-1zM857 228h1v2h-1zM858 226h1v2h-1zM859 224h1v2h-1zM860 222h1v2h-1zM861 221h1v1h-1zM862 220h1v1h-1zM863 219h1v1h-1zM864 218h1v1h-1zM865 217h1v1h-1zM866 216h1v1h-1zM867 215h1v1h-1zM868 214h1v1h-1zM869 213h1v1h-1zM870 212h1v1h-1zM871 211h1v1h-1zM872 210h1v1h-1zM873 209h1v1h-1zM874 208h1v1h-1zM875 207h1v1h-1zM876 206h1v1h-1zM877 205h3v1h-3zM880 204h4v1h-4zM884 203h2v1h-2zM886 204h2v1h-2zM888 205h2v1h-2zM890 206h1v1h-1zM891 207h2v1h-2zM893 208h1v1h-1zM894 209h1v1h-1zM895 210h1v1h-1zM896 211h1v1h-1zM897 212h1v2h-1zM898 214h1v1h-1zM899 215h1v1h-1zM900 216h1v1h-1zM901 217h1v1h-1zM902 218h2v1h-2zM904 219h1v1h-1zM905 220h1v1h-1zM906 221h2v1h-2zM908 222h1v1h-1zM909 223h1v1h-1zM910 224h1v2h-1zM911 226h1v2h-1zM912 228h1v2h-1zM913 230h1v1h-1zM914 231h1v2h-1zM915 233h1v2h-1zM916 235h1v2h-1zM917 237h1v1h-1z"/>
<rect x="5" y="293" width="1" height="71" fill="#ff0000"/>
<rect x="3" y="315" width="5" height="39" fill="#ff0000"/>
<rect x="4" y="316" width="3" height="37" fill="#ff4500"/>
<rect x="13" y="263" width="1" height="58" fill="#ff0000"/>
<rect x="11" y="276" width="5" height="39" fill="#ff0000"/>
<rect x="12" y="277" width="3" height="37" fill="#ff4500"/>
<rect x="21" y="276" width="1" height="59" fill="#32cd32"/>
<rect x="19" y="276" width="5" height="52" fill="#32cd32"/>
<rect x="29" y="300" width="1" height="48" fill="#ff0000"/>
<rect x="27" y="315" width="5" height="13" fill="#ff0000"/>
<rect x="28" y="316" width="3" height="11" fill="#ff4500"/>
<rect x="37" y="312" width="1" height="33" fill="#32cd32"/>
<rect x="35" y="315" width="5" height="3" fill="#32cd32"/>
<rect x="45" y="312" width="1" height="33" fill="#ff0000"/>
<rect x="43" y="313" width="5" height="10" fill="#ff0000"/>
<rect x="44" y="314" width="3" height="8" fill="#ff4500"/>
<rect x="53" y="284" width="1" height="37" fill="#ff0000"/>
<rect x="51" y="286" width="5" height="28" fill="#ff0000"/>
<rect x="52" y="287" width="3" height="26" fill="#ff4500"/>
<rect x="61" y="238" width="1" height="51" fill="#ff0000"/>
<rect x="59" y="239" width="5" height="48" fill="#ff0000"/>
<rect x="60" y="240" width="3" height="46" fill="#ff4500"/>
<rect x="69" y="239" width="1" height="72" fill="#32cd32"/>
<rect x="67" y="239" width="5" height="48" fill="#32cd32"/>
<rect x="77" y="254" width="1" height="47" fill="#ff0000"/>
<rect x="75" y="280" width="5" height="8" fill="#ff0000"/>
<rect x="76" y="281" width="3" height="6" fill="#ff4500"/>
<rect x="85" y="266" width="1" height="22" fill="#32cd32"/>
<rect x="83" y="280" width="5" height="1" fill="#32cd32"/>
<rect x="93" y="294" width="1" height="68" fill="#32cd32"/>
<rect x="91" y="303" width="5" height="40" fill="#32cd32"/>
<rect x="101" y="324" width="1" height="35" fill="#ff0000"/>
<rect x="99" y="332" width="5" height="11" fill="#ff0000"/>
<rect x="100" y="333" width="3" height="9" fill="#ff4500"/>
<rect x="109" y="213" width="1" height="133" fill="#ff0000"/>
<rect x="107" y="227" width="5" height="106" fill="#ff0000"/>
<rect x="108" y="228" width="3" height="104" fill="#ff4500"/>
<rect x="117" y="186" width="1" height="57" fill="#ff0000"/>
<rect x="115" y="198" width="5" height="30" fill="#ff0000"/>
<rect x="116" y="199" width="3" height="28" fill="#ff4500"/>
<rect x="125" y="188" width="1" height="116" fill="#32cd32"/>
<rect x="123" y="199" width="5" height="81" fill="#32cd32"/>
<rect x="133" y="267" width="1" height="19" fill="#32cd32"/>
<rect x="131" y="279" width="5" height="7" fill="#32cd32"/>
<rect x="141" y="216" width="1" height="64" fill="#ff0000"/>
<rect x="139" y="218" width="5" height="40" fill="#ff0000"/>
<rect x="140" y="219" width="3" height="38" fill="#ff4500"/>
<rect x="149" y="200" width="1" height="26" fill="#ff0000"/>
<rect x="147" y="205" width="5" height="13" fill="#ff0000"/>
<rect x="148" y="206" width="3" height="11" fill="#ff4500"/>
<rect x="157" y="198" width="1" height="62" fill="#32cd32"/>
<rect x="155" y="204" width="5" height="51" fill="#32cd32"/>
<rect x="165" y="223" width="1" height="38" fill="#ff0000"/>
<rect x="163" y="241" width="5" height="15" fill="#ff0000"/>
<rect x="164" y="242" width="3" height="13" fill="#ff4500"/>
<rect x="173" y="212" width="1" height="39" fill="#ff0000"/>
<rect x="171" y="231" width="5" height="11" fill="#ff0000"/>
<rect x="172" y="232" width="3" height="9" fill="#ff4500"/>
<rect x="181" y="220" width="1" height="12" fill="#ff0000"/>
<rect x="179" y="230" width="5" height="2" fill="#ff0000"/>
<rect x="189" y="208" width="1" height="23" fill="#32cd32"/>
<rect x="187" y="225" width="5" height="3" fill="#32cd32"/>
<rect x="197" y="185" width="1" height="44" fill="#ff0000"/>
<rect x="195" y="186" width="5" height="42" fill="#ff0000"/>
<rect x="196" y="187" width="3" height="40" fill="#ff4500"/>
<rect x="205" y="153" width="1" height="51" fill="#32cd32"/>
<rect x="203" y="186" width="5" height="18" fill="#32cd32"/>
<rect x="213" y="148" width="1" height="56" fill="#ff0000"/>
<rect x="211" y="156" width="5" height="48" fill="#ff0000"/>
<rect x="212" y="157" width="3" height="46" fill="#ff4500"/>
<rect x="221" y="116" width="1" height="44" fill="#ff0000"/>
<rect x="219" y="119" width="5" height="38" fill="#ff0000"/>
<rect x="220" y="120" width="3" height="36" fill="#ff4500"/>
<rect x="229" y="93" width="1" height="30" fill="#ff0000"/>
<rect x="227" y="96" width="5" height="24" fill="#ff0000"/>
<rect x="228" y="97" width="3" height="22" fill="#ff4500"/>
<rect x="237" y="89" width="1" height="23" fill="#32cd32"/>
<rect x="235" y="94" width="5" height="5" fill="#32cd32"/>
<rect x="245" y="82" width="1" height="29" fill="#ff0000"/>
<rect x="243" y="97" width="5" height="3" fill="#ff0000"/>
<rect x="244" y="98" width="3" height="1" fill="#ff4500"/>
<rect x="253" y="79" width="1" height="25" fill="#ff0000"/>
<rect x="251" y="86" width="5" height="6" fill="#ff0000"/>
<rect x="252" y="87" width="3" height="4" fill="#ff4500"/>
<rect x="261" y="53" width="1" height="59" fill="#ff0000"/>
<rect x="259" y="66" width="5" height="21" fill="#ff0000"/>
<rect x="260" y="67" width="3" height="19" fill="#ff4500"/>
<rect x="269" y="53" width="1" height="41" fill="#32cd32"/>
<rect x="267" y="66" width="5" height="4" fill="#32cd32"/>
<rect x="277" y="59" width="1" height="24" fill="#ff0000"/>
<rect x="275" y="66" width="5" height="5" fill="#ff0000"/>
<rect x="276" y="67" width="3" height="3" fill="#ff4500"/>
<rect x="285" y="50" width="1" height="35" fill="#ff0000"/>
<rect x="283" y="58" width="5" height="16" fill="#ff0000"/>
<rect x="284" y="59" width="3" height="14" fill="#ff4500"/>
<rect x="293" y="52" width="1" height="24" fill="#32cd32"/>
<rect x="291" y="58" width="5" height="18" fill="#32cd32"/>
<rect x="301" y="52" width="1" height="58" fill="#32cd32"/>
<rect x="299" y="72" width="5" height="15" fill="#32cd32"/>
<rect x="309" y="56" width="1" height="92" fill="#32cd32"/>
<rect x="307" y="86" width="5" height="61" fill="#32cd32"/>
<rect x="317" y="141" width="1" height="83" fill="#32cd32"/>
<rect x="315" y="146" width="5" height="75" fill="#32cd32"/>
<rect x="325" y="200" width="1" height="26" fill="#ff0000"/>
<rect x="323" y="217" width="5" height="4" fill="#ff0000"/>
<rect x="324" y="218" width="3" height="2" fill="#ff4500"/>
<rect x="333" y="221" width="1" height="52" fill="#32cd32"/>
<rect x="331" y="222" width="5" height="44" fill="#32cd32"/>
<rect x="341" y="266" width="1" height="29" fill="#32cd32"/>
<rect x="339" y="266" width="5" height="15" fill="#32cd32"/>
<rect x="349" y="261" width="1" height="87" fill="#32cd32"/>
<rect x="347" y="282" width="5" height="31" fill="#32cd32"/>
<rect x="357" y="300" width="1" height="39" fill="#32cd32"/>
<rect x="355" y="312" width="5" height="7" fill="#32cd32"/>
<rect x="365" y="289" width="1" height="57" fill="#ff0000"/>
<rect x="363" y="303" width="5" height="15" fill="#ff0000"/>
<rect x="364" y="304" width="3" height="13" fill="#ff4500"/>
<rect x="373" y="292" width="1" height="14" fill="#ff0000"/>
<rect x="371" y="292" width="5" height="12" fill="#ff0000"/>
<rect x="372" y="293" width="3" height="10" fill="#ff4500"/>
<rect x="381" y="276" width="1" height="28" fill="#ff0000"/>
<rect x="379" y="296" width="5" height="5" fill="#ff0000"/>
<rect x="380" y="297" width="3" height="3" fill="#ff4500"/>
<rect x="389" y="284" width="1" height="37" fill="#32cd32"/>
<rect x="387" y="297" width="5" height="14" fill="#32cd32"/>
<rect x="397" y="278" width="1" height="37" fill="#ff0000"/>
<rect x="395" y="306" width="5" height="4" fill="#ff0000"/>
<rect x="396" y="307" width="3" height="2" fill="#ff4500"/>
<rect x="405" y="263" width="1" height="50" fill="#ff0000"/>
<rect x="403" y="278" width="5" height="28" fill="#ff0000"/>
<rect x="404" y="279" width="3" height="26" fill="#ff4500"/>
<rect x="413" y="271" width="1" height="49" fill="#32cd32"/>
<rect x="411" y="278" width="5" height="28" fill="#32cd32"/>
<rect x="421" y="290" width="1" height="23" fill="#ff0000"/>
<rect x="419" y="293" width="5" height="13" fill="#ff0000"/>
<rect x="420" y="294" width="3" height="11" fill="#ff4500"/>
<rect x="429" y="263" width="1" height="42" fill="#ff0000"/>
<rect x="427" y="280" width="5" height="19" fill="#ff0000"/>
<rect x="428" y="281" width="3" height="17" fill="#ff4500"/>
<rect x="437" y="241" width="1" height="44" fill="#ff0000"/>
<rect x="435" y="251" width="5" height="31" fill="#ff0000"/>
<rect x="436" y="252" width="3" height="29" fill="#ff4500"/>
<rect x="445" y="232" width="1" height="40" fill="#ff0000"/>
<rect x="443" y="240" width="5" height="13" fill="#ff0000"/>
<rect x="444" y="241" width="3" height="11" fill="#ff4500"/>
<rect x="453" y="228" width="1" height="28" fill="#32cd32"/>
<rect x="451" y="240" width="5" height="11" fill="#32cd32"/>
<rect x="461" y="236" width="1" height="78" fill="#32cd32"/>
<rect x="459" y="251" width="5" height="49" fill="#32cd32"/>
<rect x="469" y="294" width="1" height="25" fill="#32cd32"/>
<rect x="467" y="298" width="5" height="21" fill="#32cd32"/>
<rect x="477" y="283" width="1" height="52" fill="#ff0000"/>
<rect x="475" y="301" width="5" height="25" fill="#ff0000"/>
<rect x="476" y="302" width="3" height="23" fill="#ff4500"/>
<rect x="485" y="288" width="1" height="23" fill="#ff0000"/>
<rect x="483" y="292" width="5" height="9" fill="#ff0000"/>
<rect x="484" y="293" width="3" height="7" fill="#ff4500"/>
<rect x="493" y="284" width="1" height="59" fill="#32cd32"/>
<rect x="491" y="292" width="5" height="44" fill="#32cd32"/>
<rect x="501" y="331" width="1" height="56" fill="#32cd32"/>
<rect x="499" y="335" width="5" height="43" fill="#32cd32"/>
<rect x="509" y="362" width="1" height="46" fill="#32cd32"/>
<rect x="507" y="376" width="5" height="23" fill="#32cd32"/>
<rect x="517" y="396" width="1" height="22" fill="#32cd32"/>
<rect x="515" y="398" width="5" height="7" fill="#32cd32"/>
<rect x="525" y="368" width="1" height="39" fill="#ff0000"/>
<rect x="523" y="384" width="5" height="22" fill="#ff0000"/>
<rect x="524" y="385" width="3" height="20" fill="#ff4500"/>
<rect x="533" y="365" width="1" height="32" fill="#ff0000"/>
<rect x="531" y="378" width="5" height="6" fill="#ff0000"/>
<rect x="532" y="379" width="3" height="4" fill="#ff4500"/>
<rect x="541" y="331" width="1" height="53" fill="#ff0000"/>
<rect x="539" y="351" width="5" height="28" fill="#ff0000"/>
<rect x="540" y="352" width="3" height="26" fill="#ff4500"/>
<rect x="549" y="287" width="1" height="65" fill="#ff0000"/>
<rect x="547" y="298" width="5" height="54" fill="#ff0000"/>
<rect x="548" y="299" width="3" height="52" fill="#ff4500"/>
<rect x="557" y="257" width="1" height="59" fill="#ff0000"/>
<rect x="555" y="291" width="5" height="8" fill="#ff0000"/>
<rect x="556" y="292" width="3" height="6" fill="#ff4500"/>
<rect x="565" y="277" width="1" height="22" fill="#32cd32"/>
<rect x="563" y="291" width="5" height="4" fill="#32cd32"/>
<rect x="573" y="267" width="1" height="32" fill="#ff0000"/>
<rect x="571" y="268" width="5" height="28" fill="#ff0000"/>
<rect x="572" y="269" width="3" height="26" fill="#ff4500"/>
<rect x="581" y="263" width="1" height="47" fill="#32cd32"/>
<rect x="579" y="268" width="5" height="33" fill="#32cd32"/>
<rect x="589" y="297" width="1" height="42" fill="#32cd32"/>
<rect x="587" y="300" width="5" height="16" fill="#32cd32"/>
<rect x="597" y="250" width="1" height="74" fill="#ff0000"/>
<rect x="595" y="263" width="5" height="53" fill="#ff0000"/>
<rect x="596" y="264" width="3" height="51" fill="#ff4500"/>
<rect x="605" y="260" width="1" height="42" fill="#32cd32"/>
<rect x="603" y="263" width="5" height="23" fill="#32cd32"/>
<rect x="613" y="282" width="1" height="27" fill="#32cd32"/>
<rect x="611" y="286" width="5" height="20" fill="#32cd32"/>
<rect x="621" y="303" width="1" height="19" fill="#32cd32"/>
<rect x="619" y="305" width="5" height="9" fill="#32cd32"/>
<rect x="629" y="286" width="1" height="34" fill="#ff0000"/>
<rect x="627" y="300" width="5" height="14" fill="#ff0000"/>
<rect x="628" y="301" width="3" height="12" fill="#ff4500"/>
<rect x="637" y="298" width="1" height="59" fill="#32cd32"/>
<rect x="635" y="300" width="5" height="55" fill="#32cd32"/>
<rect x="645" y="332" width="1" height="36" fill="#ff0000"/>
<rect x="643" y="346" width="5" height="8" fill="#ff0000"/>
<rect x="644" y="347" width="3" height="6" fill="#ff4500"/>
<rect x="653" y="309" width="1" height="49" fill="#ff0000"/>
<rect x="651" y="344" width="5" height="2" fill="#ff0000"/>
<rect x="661" y="340" width="1" height="38" fill="#32cd32"/>
<rect x="659" y="345" width="5" height="30" fill="#32cd32"/>
<rect x="669" y="345" width="1" height="46" fill="#ff0000"/>
<rect x="667" y="352" width="5" height="26" fill="#ff0000"/>
<rect x="668" y="353" width="3" height="24" fill="#ff4500"/>
<rect x="677" y="314" width="1" height="41" fill="#ff0000"/>
<rect x="675" y="338" width="5" height="15" fill="#ff0000"/>
<rect x="676" y="339" width="3" height="13" fill="#ff4500"/>
<rect x="685" y="336" width="1" height="50" fill="#32cd32"/>
<rect x="683" y="338" width="5" height="33" fill="#32cd32"/>
<rect x="693" y="332" width="1" height="43" fill="#ff0000"/>
<rect x="691" y="357" width="5" height="14" fill="#ff0000"/>
<rect x="692" y="358" width="3" height="12" fill="#ff4500"/>
<rect x="701" y="304" width="1" height="76" fill="#ff0000"/>
<rect x="699" y="309" width="5" height="48" fill="#ff0000"/>
<rect x="700" y="310" width="3" height="46" fill="#ff4500"/>
<rect x="709" y="272" width="1" height="41" fill="#ff0000"/>
<rect x="707" y="274" width="5" height="36" fill="#ff0000"/>
<rect x="708" y="275" width="3" height="34" fill="#ff4500"/>
<rect x="717" y="259" width="1" height="32" fill="#ff0000"/>
<rect x="715" y="261" width="5" height="28" fill="#ff0000"/>
<rect x="716" y="262" width="3" height="26" fill="#ff4500"/>
<rect x="725" y="238" width="1" height="35" fill="#ff0000"/>
<rect x="723" y="247" width="5" height="14" fill="#ff0000"/>
<rect x="724" y="248" width="3" height="12" fill="#ff4500"/>
<rect x="733" y="178" width="1" height="77" fill="#ff0000"/>
<rect x="731" y="200" width="5" height="48" fill="#ff0000"/>
<rect x="732" y="201" width="3" height="46" fill="#ff4500"/>
<rect x="741" y="183" width="1" height="23" fill="#ff0000"/>
<rect x="739" y="191" width="5" height="10" fill="#ff0000"/>
<rect x="740" y="192" width="3" height="8" fill="#ff4500"/>
<rect x="749" y="171" width="1" height="48" fill="#ff0000"/>
<rect x="747" y="189" width="5" height="4" fill="#ff0000"/>
<rect x="748" y="190" width="3" height="2" fill="#ff4500"/>
<rect x="757" y="189" width="1" height="24" fill="#32cd32"/>
<rect x="755" y="189" width="5" height="18" fill="#32cd32"/>
<rect x="765" y="189" width="1" height="28" fill="#32cd32"/>
<rect x="763" y="200" width="5" height="3" fill="#32cd32"/>
<rect x="773" y="200" width="1" height="33" fill="#32cd32"/>
<rect x="771" y="202" width="5" height="24" fill="#32cd32"/>
<rect x="781" y="223" width="1" height="46" fill="#32cd32"/>
<rect x="779" y="225" width="5" height="39" fill="#32cd32"/>
<rect x="789" y="245" width="1" height="38" fill="#32cd32"/>
<rect x="787" y="263" width="5" height="3" fill="#32cd32"/>
<rect x="797" y="231" width="1" height="51" fill="#ff0000"/>
<rect x="795" y="253" width="5" height="13" fill="#ff0000"/>
<rect x="796" y="254" width="3" height="11" fill="#ff4500"/>
<rect x="805" y="245" width="1" height="13" fill="#ff0000"/>
<rect x="803" y="247" width="5" height="6" fill="#ff0000"/>
<rect x="804" y="248" width="3" height="4" fill="#ff4500"/>
<rect x="813" y="238" width="1" height="37" fill="#ff0000"/>
<rect x="811" y="248" width="5" height="1" fill="#ff0000"/>
<rect x="821" y="234" width="1" height="72" fill="#32cd32"/>
<rect x="819" y="248" width="5" height="31" fill="#32cd32"/>
<rect x="829" y="245" width="1" height="36" fill="#ff0000"/>
<rect x="827" y="258" width="5" height="21" fill="#ff0000"/>
<rect x="828" y="259" width="3" height="19" fill="#ff4500"/>
<rect x="837" y="226" width="1" height="76" fill="#ff0000"/>
<rect x="835" y="232" width="5" height="27" fill="#ff0000"/>
<rect x="836" y="233" width="3" height="25" fill="#ff4500"/>
<rect x="845" y="197" width="1" height="46" fill="#ff0000"/>
<rect x="843" y="209" width="5" height="24" fill="#ff0000"/>
<rect x="844" y="210" width="3" height="22" fill="#ff4500"/>
<rect x="853" y="198" width="1" height="15" fill="#ff0000"/>
<rect x="851" y="204" width="5" height="6" fill="#ff0000"/>
<rect x="852" y="205" width="3" height="4" fill="#ff4500"/>
<rect x="861" y="186" width="1" height="28" fill="#32cd32"/>
<rect x="859" y="197" width="5" height="5" fill="#32cd32"/>
<rect x="869" y="194" width="1" height="37" fill="#32cd32"/>
<rect x="867" y="201" width="5" height="19" fill="#32cd32"/>
<rect x="877" y="192" width="1" height="39" fill="#ff0000"/>
<rect x="875" y="192" width="5" height="28" fill="#ff0000"/>
<rect x="876" y="193" width="3" height="26" fill="#ff4500"/>
<rect x="885" y="189" width="1" height="27" fill="#32cd32"/>
<rect x="883" y="192" width="5" height="7" fill="#32cd32"/>
<rect x="893" y="182" width="1" height="68" fill="#32cd32"/>
<rect x="891" y="198" width="5" height="40" fill="#32cd32"/>
<rect x="901" y="229" width="1" height="15" fill="#32cd32"/>
<rect x="899" y="237" width="5" height="6" fill="#32cd32"/>
<rect x="909" y="231" width="1" height="22" fill="#32cd32"/>
<rect x="907" y="243" width="5" height="5" fill="#32cd32"/>
<rect x="917" y="243" width="1" height="34" fill="#32cd32"/>
<rect x="915" y="247" width="5" height="21" fill="#32cd32"/>
</g>
<rect x="683" y="169" width="309" height="2" fill="#ff2020"/>
<rect x="684" y="283" width="306" height="2" fill="#99cc00"/>
<rect x="674" y="337" width="316" height="2" fill="#1e88e5"/>
<clipPath id="cp2"><rect x="5" y="430" width="1162" height="153"/></clipPath>
<g clip-path="url(#cp2)">
<rect x="4" y="454" width="3" height="15" fill="#c0c0c0"/>
<rect x="12" y="454" width="3" height="15" fill="#c0c0c0"/>
<rect x="20" y="454" width="3" height="15" fill="#c0c0c0"/>
<rect x="28" y="454" width="3" height="15" fill="#c0c0c0"/>
<rect x="36" y="455" width="3" height="14" fill="#c0c0c0"/>
<rect x="44" y="455" width="3" height="14" fill="#c0c0c0"/>
<rect x="52" y="455" width="3" height="14" fill="#c0c0c0"/>
<rect x="60" y="451" width="3" height="18" fill="#c0c0c0"/>
<rect x="68" y="451" width="3" height="18" fill="#c0c0c0"/>
<rect x="76" y="451" width="3" height="18" fill="#c0c0c0"/>
<rect x="84" y="453" width="3" height="16" fill="#c0c0c0"/>
<rect x="92" y="455" width="3" height="14" fill="#c0c0c0"/>
<rect x="100" y="457" width="3" height="12" fill="#c0c0c0"/>
<rect x="108" y="454" width="3" height="15" fill="#c0c0c0"/>
<rect x="116" y="451" width="3" height="18" fill="#c0c0c0"/>
<rect x="124" y="453" width="3" height="16" fill="#c0c0c0"/>
<rect x="132" y="454" width="3" height="15" fill="#c0c0c0"/>
<rect x="140" y="453" width="3" height="16" fill="#c0c0c0"/>
<rect x="148" y="450" width="3" height="19" fill="#c0c0c0"/>
<rect x="156" y="451" width="3" height="18" fill="#c0c0c0"/>
<rect x="164" y="451" width="3" height="18" fill="#c0c0c0"/>
<rect x="172" y="451" width="3" height="18" fill="#c0c0c0"/>
<rect x="180" y="453" width="3" height="16" fill="#c0c0c0"/>
<rect x="188" y="453" width="3" height="16" fill="#c0c0c0"/>
<rect x="196" y="451" width="3" height="18" fill="#c0c0c0"/>
<rect x="204" y="451" width="3" height="18" fill="#c0c0c0"/>
<rect x="212" y="448" width="3" height="21" fill="#c0c0c0"/>
<rect x="220" y="445" width="3" height="24" fill="#c0c0c0"/>
<rect x="228" y="441" width="3" height="28" fill="#c0c0c0"/>
<rect x="236" y="439" width="3" height="30" fill="#c0c0c0"/>
<rect x="244" y="438" width="3" height="31" fill="#c0c0c0"/>
<rect x="252" y="436" width="3" height="33" fill="#c0c0c0"/>
<rect x="260" y="435" width="3" height="34" fill="#c0c0c0"/>
<rect x="268" y="434" width="3" height="35" fill="#c0c0c0"/>
<rect x="276" y="434" width="3" height="35" fill="#c0c0c0"/>
<rect x="284" y="433" width="3" height="36" fill="#c0c0c0"/>
<rect x="292" y="435" width="3" height="34" fill="#c0c0c0"/>
<rect x="300" y="437" width="3" height="32" fill="#c0c0c0"/>
<rect x="308" y="441" width="3" height="28" fill="#c0c0c0"/>
<rect x="316" y="448" width="3" height="21" fill="#c0c0c0"/>
<rect x="324" y="454" width="3" height="15" fill="#c0c0c0"/>
<rect x="332" y="462" width="3" height="7" fill="#c0c0c0"/>
<rect x="340" y="468" width="3" height="1" fill="#c0c0c0"/>
<rect x="348" y="469" width="3" height="7" fill="#c0c0c0"/>
<rect x="356" y="469" width="3" height="12" fill="#c0c0c0"/>
<rect x="364" y="469" width="3" height="15" fill="#c0c0c0"/>
<rect x="372" y="469" width="3" height="17" fill="#c0c0c0"/>
<rect x="380" y="469" width="3" height="19" fill="#c0c0c0"/>
<rect x="388" y="469" width="3" height="21" fill="#c0c0c0"/>
<rect x="396" y="469" width="3" height="21" fill="#c0c0c0"/>
<rect x="404" y="469" width="3" height="21" fill="#c0c0c0"/>
<rect x="412" y="469" width="3" height="21" fill="#c0c0c0"/>
<rect x="420" y="469" width="3" height="21" fill="#c0c0c0"/>
<rect x="428" y="469" width="3" height="19" fill="#c0c0c0"/>
<rect x="436" y="469" width="3" height="17" fill="#c0c0c0"/>
<rect x="444" y="469" width="3" height="14" fill="#c0c0c0"/>
<rect x="452" y="469" width="3" height="12" fill="#c0c0c0"/>
<rect x="460" y="469" width="3" height="12" fill="#c0c0c0"/>
<rect x="468" y="469" width="3" height="14" fill="#c0c0c0"/>
<rect x="476" y="469" width="3" height="14" fill="#c0c0c0"/>
<rect x="484" y="469" width="3" height="14" fill="#c0c0c0"/>
<rect x="492" y="469" width="3" height="15" fill="#c0c0c0"/>
<rect x="500" y="469" width="3" height="19" fill="#c0c0c0"/>
<rect x="508" y="469" width="3" height="22" fill="#c0c0c0"/>
<rect x="516" y="469" width="3" height="24" fill="#c0c0c0"/>
<rect x="524" y="469" width="3" height="25" fill="#c0c0c0"/>
<rect x="532" y="469" width="3" height="25" fill="#c0c0c0"/>
<rect x="540" y="469" width="3" height="24" fill="#c0c0c0"/>
<rect x="548" y="469" width="3" height="20" fill="#c0c0c0"/>
<rect x="556" y="469" width="3" height="16" fill="#c0c0c0"/>
<rect x="564" y="469" width="3" height="12" fill="#c0c0c0"/>
<rect x="572" y="469" width="3" height="10" fill="#c0c0c0"/>
<rect x="580" y="469" width="3" height="8" fill="#c0c0c0"/>
<rect x="588" y="469" width="3" height="8" fill="#c0c0c0"/>
<rect x="596" y="469" width="3" height="5" fill="#c0c0c0"/>
<rect x="604" y="469" width="3" height="4" fill="#c0c0c0"/>
<rect x="612" y="469" width="3" height="4" fill="#c0c0c0"/>
<rect x="620" y="469" width="3" height="4" fill="#c0c0c0"/>
<rect x="628" y="469" width="3" height="3" fill="#c0c0c0"/>
<rect x="636" y="469" width="3" height="5" fill="#c0c0c0"/>
<rect x="644" y="469" width="3" height="7" fill="#c0c0c0"/>
<rect x="652" y="469" width="3" height="8" fill="#c0c0c0"/>
<rect x="660" y="469" width="3" height="10" fill="#c0c0c0"/>
<rect x="668" y="469" width="3" height="10" fill="#c0c0c0"/>
<rect x="676" y="469" width="3" height="10" fill="#c0c0c0"/>
<rect x="684" y="469" width="3" height="11" fill="#c0c0c0"/>
<rect x="692" y="469" width="3" height="11" fill="#c0c0c0"/>
<rect x="700" y="469" width="3" height="9" fill="#c0c0c0"/>
<rect x="708" y="469" width="3" height="5" fill="#c0c0c0"/>
<rect x="716" y="469" width="3" height="2" fill="#c0c0c0"/>
<rect x="724" y="466" width="3" height="3" fill="#c0c0c0"/>
<rect x="732" y="462" width="3" height="7" fill="#c0c0c0"/>
<rect x="740" y="457" width="3" height="12" fill="#c0c0c0"/>
<rect x="748" y="454" width="3" height="15" fill="#c0c0c0"/>
<rect x="756" y="453" width="3" height="16" fill="#c0c0c0"/>
<rect x="764" y="451" width="3" height="18" fill="#c0c0c0"/>
<rect x="772" y="452" width="3" height="17" fill="#c0c0c0"/>
<rect x="780" y="454" width="3" height="15" fill="#c0c0c0"/>
<rect x="788" y="456" width="3" height="13" fill="#c0c0c0"/>
<rect x="796" y="457" width="3" height="12" fill="#c0c0c0"/>
<rect x="804" y="458" width="3" height="11" fill="#c0c0c0"/>
<rect x="812" y="459" width="3" height="10" fill="#c0c0c0"/>
<rect x="820" y="461" width="3" height="8" fill="#c0c0c0"/>
<rect x="828" y="462" width="3" height="7" fill="#c0c0c0"/>
<rect x="836" y="462" width="3" height="7" fill="#c0c0c0"/>
<rect x="844" y="459" width="3" height="10" fill="#c0c0c0"/>
<rect x="852" y="459" width="3" height="10" fill="#c0c0c0"/>
<rect x="860" y="458" width="3" height="11" fill="#c0c0c0"/>
<rect x="868" y="458" width="3" height="11" fill="#c0c0c0"/>
<rect x="876" y="457" width="3" height="12" fill="#c0c0c0"/>
<rect x="884" y="457" width="3" height="12" fill="#c0c0c0"/>
<rect x="892" y="458" width="3" height="11" fill="#c0c0c0"/>
<rect x="900" y="459" width="3" height="10" fill="#c0c0c0"/>
<rect x="908" y="462" width="3" height="7" fill="#c0c0c0"/>
<rect x="916" y="464" width="3" height="5" fill="#c0c0c0"/>
<path fill="#ff0000" d="M5 454h5v1h-5zM10 453h24v1h-24zM34 454h32v1h-32zM66 453h128v1h-128zM194 452h16v1h-16zM210 451h16v1h-16zM226 450h6v1h-6zM232 449h4v1h-4zM236 448h4v1h-4zM240 447h4v1h-4zM244 446h4v1h-4zM248 445h4v1h-4zM252 444h4v1h-4zM256 443h4v1h-4zM260 442h6v1h-6zM266 441h6v1h-6zM272 440h4v1h-4zM276 439h6v1h-6zM282 438h6v1h-6zM288 437h4v1h-4zM292 436h22v1h-22zM314 437h6v1h-6zM320 438h4v1h-4zM324 439h3v1h-3zM327 440h2v1h-2zM329 441h2v1h-2zM331 442h2v1h-2zM333 443h2v1h-2zM335 444h2v1h-2zM337 445h2v1h-2zM339 446h2v1h-2zM341 447h2v1h-2zM343 448h2v1h-2zM345 449h2v1h-2zM347 450h2v1h-2zM349 451h1v1h-1zM350 452h2v1h-2zM352 453h1v1h-1zM353 454h1v1h-1zM354 455h2v1h-2zM356 456h1v1h-1zM357 457h1v1h-1zM358 458h2v1h-2zM360 459h2v1h-2zM362 460h1v1h-1zM363 461h2v1h-2zM365 462h2v1h-2zM367 463h2v1h-2zM369 464h2v1h-2zM371 465h2v1h-2zM373 466h1v1h-1zM374 467h2v1h-2zM376 468h2v1h-2zM378 469h1v1h-1zM379 470h2v1h-2zM381 471h2v1h-2zM383 472h2v1h-2zM385 473h2v1h-2zM387 474h2v1h-2zM389 475h1v1h-1zM390 476h2v1h-2zM392 477h2v1h-2zM394 478h1v1h-1zM395 479h2v1h-2zM397 480h2v1h-2zM399 481h3v1h-3zM402 482h2v1h-2zM404 483h4v1h-4zM408 484h4v1h-4zM412 485h4v1h-4zM416 486h4v1h-4zM420 487h14v1h-14zM434 488h8v1h-8zM442 487h16v1h-16zM458 486h8v1h-8zM466 485h8v1h-8zM474 484h16v1h-16zM490 483h16v1h-16zM506 484h8v1h-8zM514 485h8v1h-8zM522 486h6v1h-6zM528 487h4v1h-4zM532 488h6v1h-6zM538 489h32v1h-32zM570 488h8v1h-8zM578 487h5v1h-5zM583 486h3v1h-3zM586 485h2v1h-2zM588 484h4v1h-4zM592 483h4v1h-4zM596 482h4v1h-4zM600 481h4v1h-4zM604 480h4v1h-4zM608 479h4v1h-4zM612 478h4v1h-4zM616 477h4v1h-4zM620 476h6v1h-6zM626 475h6v1h-6zM632 474h4v1h-4zM636 473h22v1h-22zM658 474h16v1h-16zM674 475h8v1h-8zM682 476h8v1h-8zM690 477h30v1h-30zM720 476h4v1h-4zM724 475h4v1h-4zM728 474h4v1h-4zM732 473h4v1h-4zM736 472h4v1h-4zM740 471h3v1h-3zM743 470h3v1h-3zM746 469h2v1h-2zM748 468h4v1h-4zM752 467h4v1h-4zM756 466h3v1h-3zM759 465h3v1h-3zM762 464h2v1h-2zM764 463h3v1h-3zM767 462h3v1h-3zM770 461h2v1h-2zM772 460h3v1h-3zM775 459h3v1h-3zM778 458h2v1h-2zM780 457h6v1h-6zM786 456h8v1h-8zM794 455h24v1h-24zM818 456h8v1h-8zM826 457h8v1h-8zM834 458h8v1h-8zM842 459h16v1h-16zM858 460h24v1h-24zM882 459h36v1h-36z"/>
<line x1="0" y1="525.5" x2="1167" y2="525.5" stroke="#c0c0c0" stroke-width="1" stroke-dasharray="3 3"/>
<line x1="0" y1="558.5" x2="1167" y2="558.5" stroke="#c0c0c0" stroke-width="1" stroke-dasharray="3 3"/>
<path fill="#1e90ff" d="M5 531h2v1h-2zM7 530h2v1h-2zM9 529h2v1h-2zM11 528h2v1h-2zM13 527h1v1h-1zM14 528h1v1h-1zM15 529h1v1h-1zM16 530h1v1h-1zM17 531h1v2h-1zM18 533h1v1h-1zM19 534h1v1h-1zM20 535h1v1h-1zM21 536h5v1h-5zM26 535h21v1h-21zM47 534h2v1h-2zM49 533h2v1h-2zM51 532h2v1h-2zM53 531h1v1h-1zM54 530h2v1h-2zM56 529h2v1h-2zM58 528h1v1h-1zM59 527h2v1h-2zM61 526h1v1h-1zM62 527h1v1h-1zM63 528h1v1h-1zM64 529h1v1h-1zM65 530h1v2h-1zM66 532h1v1h-1zM67 533h1v1h-1zM68 534h1v1h-1zM69 535h5v1h-5zM74 534h12v1h-12zM86 535h1v1h-1zM87 536h1v1h-1zM88 537h1v1h-1zM89 538h1v2h-1zM90 540h1v1h-1zM91 541h1v1h-1zM92 542h1v1h-1zM93 543h5v1h-5zM98 542h4v1h-4zM102 540h1v2h-1zM103 539h1v1h-1zM104 538h1v1h-1zM105 536h1v2h-1zM106 535h1v1h-1zM107 534h1v1h-1zM108 532h1v2h-1zM109 531h3v1h-3zM112 530h4v1h-4zM116 529h2v1h-2zM118 530h1v1h-1zM119 531h1v1h-1zM120 532h1v1h-1zM121 533h1v2h-1zM122 535h1v1h-1zM123 536h1v1h-1zM124 537h1v1h-1zM125 538h5v1h-5zM130 539h4v1h-4zM134 538h2v1h-2zM136 537h2v1h-2zM138 536h1v1h-1zM139 535h2v1h-2zM141 534h3v1h-3zM144 533h4v1h-4zM148 532h2v1h-2zM150 533h2v1h-2zM152 534h1v1h-1zM153 535h1v1h-1zM154 536h2v1h-2zM156 537h1v1h-1zM157 538h5v1h-5zM162 537h8v1h-8zM170 536h16v1h-16zM186 535h5v1h-5zM191 534h3v1h-3zM194 533h2v1h-2zM196 532h4v1h-4zM200 533h4v1h-4zM204 534h3v1h-3zM207 533h2v1h-2zM209 532h2v1h-2zM211 531h2v1h-2zM213 530h2v1h-2zM215 529h3v1h-3zM218 528h2v1h-2zM220 527h6v1h-6zM226 526h24v1h-24zM250 525h8v1h-8zM258 524h24v1h-24zM282 523h5v1h-5zM287 524h2v1h-2zM289 525h2v1h-2zM291 526h2v1h-2zM293 527h3v1h-3zM296 528h4v1h-4zM300 529h2v1h-2zM302 530h1v2h-1zM303 532h1v1h-1zM304 533h1v1h-1zM305 534h1v2h-1zM306 536h1v1h-1zM307 537h1v1h-1zM308 538h1v2h-1zM309 540h1v1h-1zM310 541h1v1h-1zM311 542h1v1h-1zM312 543h1v1h-1zM313 544h1v2h-1zM314 546h1v1h-1zM315 547h1v1h-1zM316 548h1v1h-1zM317 549h5v1h-5zM322 548h4v1h-4zM326 549h2v1h-2zM328 550h2v1h-2zM330 551h1v1h-1zM331 552h2v1h-2zM333 553h5v1h-5zM338 554h5v1h-5zM343 555h3v1h-3zM346 556h2v1h-2zM348 557h11v1h-11zM359 556h3v1h-3zM362 555h2v1h-2zM364 554h6v1h-6zM370 553h16v1h-16zM386 554h12v1h-12zM398 553h2v1h-2zM400 552h1v1h-1zM401 551h1v1h-1zM402 550h2v1h-2zM404 549h1v1h-1zM405 548h2v1h-2zM407 549h2v1h-2zM409 550h2v1h-2zM411 551h2v1h-2zM413 552h2v1h-2zM415 551h3v1h-3zM418 550h2v1h-2zM420 549h4v1h-4zM424 548h4v1h-4zM428 547h2v1h-2zM430 546h2v1h-2zM432 545h2v1h-2zM434 544h1v1h-1zM435 543h2v1h-2zM437 542h5v1h-5zM442 541h8v1h-8zM450 542h4v1h-4zM454 543h1v1h-1zM455 544h1v1h-1zM456 545h2v1h-2zM458 546h1v1h-1zM459 547h1v1h-1zM460 548h1v1h-1zM461 549h3v1h-3zM464 550h4v1h-4zM468 551h3v1h-3zM471 550h3v1h-3zM474 549h2v1h-2zM476 548h4v1h-4zM480 547h4v1h-4zM484 546h2v1h-2zM486 547h2v1h-2zM488 548h2v1h-2zM490 549h1v1h-1zM491 550h2v1h-2zM493 551h1v1h-1zM494 552h2v1h-2zM496 553h2v1h-2zM498 554h1v1h-1zM499 555h2v1h-2zM501 556h5v1h-5zM506 557h8v1h-8zM514 558h5v1h-5zM519 557h2v1h-2zM521 556h2v1h-2zM523 555h2v1h-2zM525 554h5v1h-5zM530 553h4v1h-4zM534 552h2v1h-2zM536 551h2v1h-2zM538 550h1v1h-1zM539 549h2v1h-2zM541 548h1v1h-1zM542 547h1v1h-1zM543 546h1v1h-1zM544 545h1v1h-1zM545 544h1v1h-1zM546 543h1v1h-1zM547 542h1v1h-1zM548 541h1v1h-1zM549 540h5v1h-5zM554 539h8v1h-8zM562 540h5v1h-5zM567 539h2v1h-2zM569 538h2v1h-2zM571 537h2v1h-2zM573 536h1v1h-1zM574 537h2v1h-2zM576 538h2v1h-2zM578 539h1v1h-1zM579 540h2v1h-2zM581 541h3v1h-3zM584 542h4v1h-4zM588 543h2v1h-2zM590 542h2v1h-2zM592 541h1v1h-1zM593 540h1v1h-1zM594 539h2v1h-2zM596 538h1v1h-1zM597 537h2v1h-2zM599 538h3v1h-3zM602 539h2v1h-2zM604 540h4v1h-4zM608 541h4v1h-4zM612 542h6v1h-6zM618 543h6v1h-6zM624 542h4v1h-4zM628 541h2v1h-2zM630 542h1v1h-1zM631 543h1v1h-1zM632 544h2v1h-2zM634 545h1v1h-1zM635 546h1v1h-1zM636 547h1v1h-1zM637 548h5v1h-5zM642 547h13v1h-13zM655 548h3v1h-3zM658 549h2v1h-2zM660 550h3v1h-3zM663 549h3v1h-3zM666 548h2v1h-2zM668 547h3v1h-3zM671 546h3v1h-3zM674 545h2v1h-2zM676 544h3v1h-3zM679 545h2v1h-2zM681 546h2v1h-2zM683 547h2v1h-2zM685 548h3v1h-3zM688 547h4v1h-4zM692 546h2v1h-2zM694 545h1v1h-1zM695 544h1v1h-1zM696 543h2v1h-2zM698 542h1v1h-1zM699 541h1v1h-1zM700 540h1v1h-1zM701 539h2v1h-2zM703 538h2v1h-2zM705 537h2v1h-2zM707 536h2v1h-2zM709 535h5v1h-5zM714 534h8v1h-8zM722 533h4v1h-4zM726 532h2v1h-2zM728 531h2v1h-2zM730 530h1v1h-1zM731 529h2v1h-2zM733 528h5v1h-5zM738 527h13v1h-13zM751 528h3v1h-3zM754 529h2v1h-2zM756 530h11v1h-11zM767 531h3v1h-3zM770 532h2v1h-2zM772 533h2v1h-2zM774 534h1v1h-1zM775 535h1v1h-1zM776 536h2v1h-2zM778 537h1v1h-1zM779 538h1v1h-1zM780 539h1v1h-1zM781 540h13v1h-13zM794 539h8v1h-8zM802 538h12v1h-12zM814 539h2v1h-2zM816 540h2v1h-2zM818 541h1v1h-1zM819 542h2v1h-2zM821 543h2v1h-2zM823 542h3v1h-3zM826 541h2v1h-2zM828 540h3v1h-3zM831 539h2v1h-2zM833 538h2v1h-2zM835 537h2v1h-2zM837 536h2v1h-2zM839 535h3v1h-3zM842 534h2v1h-2zM844 533h6v1h-6zM850 532h13v1h-13zM863 533h2v1h-2zM865 534h2v1h-2zM867 535h2v1h-2zM869 536h2v1h-2zM871 535h2v1h-2zM873 534h2v1h-2zM875 533h2v1h-2zM877 532h5v1h-5zM882 533h4v1h-4zM886 534h1v1h-1zM887 535h1v1h-1zM888 536h1v1h-1zM889 537h1v1h-1zM890 538h1v1h-1zM891 539h1v1h-1zM892 540h1v1h-1zM893 541h13v1h-13zM906 542h5v1h-5zM911 543h3v1h-3zM914 544h2v1h-2zM916 545h2v1h-2z"/>
</g>
<rect x="1169" y="262" width="41" height="11" fill="#000"/>
<g shape-rendering="auto">
<polygon points="8,41 15,41 11.5,37" fill="#000"/>
<polygon points="1182.6,615.5 1187,611.5 1187,619.5" fill="#a0a0a0"/>
<polygon points="1206,615.5 1202,611.5 1202,619.5" fill="#000"/>
</g>
</svg>
<svg width="1214" height="631" viewBox="0 0 1214 631">
<text x="1172.91" y="64.92" font-size="9.95" fill="#000" stroke="#000" stroke-width="0.15" textLength="33.42" lengthAdjust="spacingAndGlyphs">1.36460</text>
<text x="1172.91" y="97.92" font-size="9.95" fill="#000" stroke="#000" stroke-width="0.15" textLength="33.42" lengthAdjust="spacingAndGlyphs">1.35920</text>
<text x="1172.91" y="130.93" font-size="9.95" fill="#000" stroke="#000" stroke-width="0.15" textLength="33.42" lengthAdjust="spacingAndGlyphs">1.35380</text>
<text x="1172.91" y="163.93" font-size="9.95" fill="#000" stroke="#000" stroke-width="0.15" textLength="33.46" lengthAdjust="spacingAndGlyphs">1.34855</text>
<text x="1172.91" y="196.93" font-size="9.95" fill="#000" stroke="#000" stroke-width="0.15" textLength="33.46" lengthAdjust="spacingAndGlyphs">1.34315</text>
<text x="1172.91" y="229.93" font-size="9.95" fill="#000" stroke="#000" stroke-width="0.15" textLength="33.46" lengthAdjust="spacingAndGlyphs">1.33775</text>
<text x="1172.91" y="262.93" font-size="9.95" fill="#000" stroke="#000" stroke-width="0.15" textLength="33.46" lengthAdjust="spacingAndGlyphs">1.33235</text>
<text x="1172.91" y="295.93" font-size="9.95" fill="#000" stroke="#000" stroke-width="0.15" textLength="33.42" lengthAdjust="spacingAndGlyphs">1.32710</text>
<text x="1172.91" y="328.93" font-size="9.95" fill="#000" stroke="#000" stroke-width="0.15" textLength="33.42" lengthAdjust="spacingAndGlyphs">1.32170</text>
<text x="1172.91" y="361.93" font-size="9.95" fill="#000" stroke="#000" stroke-width="0.15" textLength="33.42" lengthAdjust="spacingAndGlyphs">1.31630</text>
<text x="1172.91" y="394.93" font-size="9.95" fill="#000" stroke="#000" stroke-width="0.15" textLength="33.42" lengthAdjust="spacingAndGlyphs">1.31090</text>
<text x="1172.91" y="427.93" font-size="9.95" fill="#000" stroke="#000" stroke-width="0.15" textLength="33.46" lengthAdjust="spacingAndGlyphs">1.30565</text>
<text x="1170.83" y="439.93" font-size="9.95" fill="#000" stroke="#000" stroke-width="0.15" textLength="38.34" lengthAdjust="spacingAndGlyphs">0.010525</text>
<text x="1170.82" y="472.93" font-size="9.95" fill="#000" stroke="#000" stroke-width="0.15" textLength="18.53" lengthAdjust="spacingAndGlyphs">0.00</text>
<text x="1170.77" y="493.93" font-size="9.95" fill="#000" stroke="#000" stroke-width="0.15" textLength="32.63" lengthAdjust="spacingAndGlyphs">-0.0073</text>
<text x="1170.91" y="509.93" font-size="9.95" fill="#000" stroke="#000" stroke-width="0.15" textLength="15.45" lengthAdjust="spacingAndGlyphs">100</text>
<text x="1170.72" y="528.92" font-size="9.95" fill="#000" stroke="#000" stroke-width="0.15" textLength="10.64" lengthAdjust="spacingAndGlyphs">70</text>
<text x="1170.82" y="561.92" font-size="9.95" fill="#000" stroke="#000" stroke-width="0.15" textLength="10.53" lengthAdjust="spacingAndGlyphs">30</text>
<text x="1170.80" y="579.92" font-size="9.95" fill="#000" stroke="#000" stroke-width="0.15" textLength="5.56" lengthAdjust="spacingAndGlyphs">0</text>
<text x="3.72" y="595.92" font-size="9.95" fill="#000" stroke="#000" stroke-width="0.15" textLength="54.58" lengthAdjust="spacingAndGlyphs">20 Nov 2018</text>
<text x="67.72" y="595.92" font-size="9.95" fill="#000" stroke="#000" stroke-width="0.15" textLength="54.47" lengthAdjust="spacingAndGlyphs">29 Nov 2018</text>
<text x="131.83" y="595.92" font-size="9.95" fill="#000" stroke="#000" stroke-width="0.15" textLength="47.34" lengthAdjust="spacingAndGlyphs">8 Dec 2018</text>
<text x="195.51" y="595.92" font-size="9.95" fill="#000" stroke="#000" stroke-width="0.15" textLength="52.37" lengthAdjust="spacingAndGlyphs">18 Dec 2018</text>
<text x="259.74" y="595.92" font-size="9.95" fill="#000" stroke="#000" stroke-width="0.15" textLength="52.44" lengthAdjust="spacingAndGlyphs">27 Dec 2018</text>
<text x="323.83" y="595.92" font-size="9.95" fill="#000" stroke="#000" stroke-width="0.15" textLength="45.17" lengthAdjust="spacingAndGlyphs">5 Jan 2019</text>
<text x="387.51" y="595.92" font-size="9.95" fill="#000" stroke="#000" stroke-width="0.15" textLength="51.01" lengthAdjust="spacingAndGlyphs">15 Jan 2019</text>
<text x="451.74" y="595.92" font-size="9.95" fill="#000" stroke="#000" stroke-width="0.15" textLength="50.27" lengthAdjust="spacingAndGlyphs">24 Jan 2019</text>
<text x="515.73" y="595.92" font-size="9.95" fill="#000" stroke="#000" stroke-width="0.15" textLength="47.08" lengthAdjust="spacingAndGlyphs">2 Feb 2019</text>
<text x="579.51" y="595.92" font-size="9.95" fill="#000" stroke="#000" stroke-width="0.15" textLength="51.71" lengthAdjust="spacingAndGlyphs">12 Feb 2019</text>
<text x="643.73" y="595.92" font-size="9.95" fill="#000" stroke="#000" stroke-width="0.15" textLength="53.00" lengthAdjust="spacingAndGlyphs">21 Feb 2019</text>
<text x="707.73" y="595.92" font-size="9.95" fill="#000" stroke="#000" stroke-width="0.15" textLength="47.38" lengthAdjust="spacingAndGlyphs">2 Mar 2019</text>
<text x="771.50" y="595.92" font-size="9.95" fill="#000" stroke="#000" stroke-width="0.15" textLength="52.52" lengthAdjust="spacingAndGlyphs">12 Mar 2019</text>
<text x="835.73" y="595.92" font-size="9.95" fill="#000" stroke="#000" stroke-width="0.15" textLength="52.49" lengthAdjust="spacingAndGlyphs">21 Mar 2019</text>
<text x="899.82" y="595.92" font-size="9.95" fill="#000" stroke="#000" stroke-width="0.15" textLength="52.70" lengthAdjust="spacingAndGlyphs">30 Mar 2019</text>
<text x="19.46" y="41.92" font-size="9.95" fill="#000" stroke="#000" stroke-width="0.15" textLength="66.12" lengthAdjust="spacingAndGlyphs">USDCAD,Daily</text>
<text x="92.00" y="41.92" font-size="9.95" fill="#000" stroke="#000" stroke-width="0.15" textLength="141.31" lengthAdjust="spacingAndGlyphs">1.33438 1.33495 1.32970 1.33111</text>
<text x="8.85" y="441.93" font-size="9.95" fill="#000" stroke="#000" stroke-width="0.15" textLength="148.11" lengthAdjust="spacingAndGlyphs">MACD(12,26,9) 0.001382 0.002737</text>
<text x="8.86" y="511.93" font-size="9.95" fill="#000" stroke="#000" stroke-width="0.15" textLength="68.14" lengthAdjust="spacingAndGlyphs">RSI(14) 44.8227</text>
<text x="15.72" y="18" font-size="10.0" fill="#303030" textLength="18.92" lengthAdjust="spacingAndGlyphs">M30</text>
<text x="47.13" y="18" font-size="10.0" fill="#303030" textLength="12.34" lengthAdjust="spacingAndGlyphs">H1</text>
<text x="73.68" y="18" font-size="10.0" fill="#303030" textLength="13.11" lengthAdjust="spacingAndGlyphs">H4</text>
<text x="103.02" y="18" font-size="10.0" fill="#303030" textLength="12.45" lengthAdjust="spacingAndGlyphs">D1</text>
<text x="130.95" y="18" font-size="10.0" fill="#303030" textLength="14.48" lengthAdjust="spacingAndGlyphs">W1</text>
<text x="156.87" y="18" font-size="10.0" fill="#303030" textLength="16.17" lengthAdjust="spacingAndGlyphs">MN</text>
<text x="-4.34" y="18" font-size="10.0" fill="#303030" textLength="10.96" lengthAdjust="spacingAndGlyphs">15</text>
<text x="17.34" y="621.0" font-size="13.1" fill="#6c6c6c" stroke="#6c6c6c" stroke-width="0.2" textLength="80.84" lengthAdjust="spacingAndGlyphs">EURUSD,Daily</text>
<text x="121.50" y="621.0" font-size="13.1" fill="#6c6c6c" stroke="#6c6c6c" stroke-width="0.2" textLength="69.79" lengthAdjust="spacingAndGlyphs">AUDUSD,H4</text>
<text x="211.59" y="621.0" font-size="13.1" fill="#6c6c6c" stroke="#6c6c6c" stroke-width="0.2" textLength="79.12" lengthAdjust="spacingAndGlyphs">USDCHF,Daily</text>
<text x="415.37" y="621.0" font-size="13.1" fill="#6c6c6c" stroke="#6c6c6c" stroke-width="0.2" textLength="83.61" lengthAdjust="spacingAndGlyphs">USDCNH,Daily</text>
<text x="519.20" y="621.0" font-size="13.1" fill="#6c6c6c" stroke="#6c6c6c" stroke-width="0.2" textLength="75.52" lengthAdjust="spacingAndGlyphs">USDJPY,Daily</text>
<text x="616.80" y="621.0" font-size="13.1" fill="#6c6c6c" stroke="#6c6c6c" stroke-width="0.2" textLength="69.13" lengthAdjust="spacingAndGlyphs">XAUUSD,H1</text>
<text x="709.50" y="621.0" font-size="13.1" fill="#6c6c6c" stroke="#6c6c6c" stroke-width="0.2" textLength="68.79" lengthAdjust="spacingAndGlyphs">GBPUSD,H4</text>
<text x="801.95" y="621.0" font-size="13.1" fill="#6c6c6c" stroke="#6c6c6c" stroke-width="0.2" textLength="64.25" lengthAdjust="spacingAndGlyphs">SP500,M15</text>
<text x="889.60" y="621.0" font-size="13.1" fill="#6c6c6c" stroke="#6c6c6c" stroke-width="0.2" textLength="80.08" lengthAdjust="spacingAndGlyphs">GBPUSD,Daily</text>
<text x="991.22" y="621.0" font-size="13.1" fill="#6c6c6c" stroke="#6c6c6c" stroke-width="0.2" textLength="47.70" lengthAdjust="spacingAndGlyphs">DJ30,H4</text>
<text x="1060.06" y="621.0" font-size="13.1" fill="#6c6c6c" stroke="#6c6c6c" stroke-width="0.2" textLength="71.00" lengthAdjust="spacingAndGlyphs">TECH100,H1</text>
<text x="312.19" y="621.0" font-size="13.1" fill="#000" stroke="#000" stroke-width="0.2" textLength="81.69" lengthAdjust="spacingAndGlyphs">USDCAD,Daily</text>
<text x="1153.86" y="621.0" font-size="13.1" fill="#6c6c6c" stroke="#6c6c6c" stroke-width="0.2" textLength="23.75" lengthAdjust="spacingAndGlyphs">UKC</text>
<text x="1172.87" y="270.93" font-size="9.95" fill="#fff" stroke="#fff" stroke-width="0.15" textLength="33.58" lengthAdjust="spacingAndGlyphs">1.33111</text>
</svg>
<!-- trade panel -->
<div style="left:5px;top:46px;width:224px;height:70px;background:#fff;"></div>
<div style="left:8px;top:50px;width:52px;height:24px;background:linear-gradient(#fa4c4c,#e63636);box-shadow:inset 1px 1px 0 rgba(190,0,0,.7),inset -1px 0 0 rgba(190,0,0,.7);"></div>
<div style="left:175px;top:50px;width:52px;height:24px;background:linear-gradient(#fa4c4c,#e63636);box-shadow:inset 1px 1px 0 rgba(190,0,0,.7),inset -1px 0 0 rgba(190,0,0,.7);"></div>
<div style="left:8px;top:74px;width:109px;height:40px;background:linear-gradient(#e03030,#a80000);box-shadow:inset 0 0 0 1px rgba(170,0,0,.6);"></div>
<div style="left:119px;top:74px;width:108px;height:40px;background:linear-gradient(#e03030,#a80000);box-shadow:inset 0 0 0 1px rgba(170,0,0,.6);"></div>
<div style="left:12px;top:73px;width:44px;height:1px;background:#a01010"></div>
<div style="left:12px;top:74px;width:44px;height:1px;background:#f06060"></div>
<div style="left:179px;top:73px;width:44px;height:1px;background:#a01010"></div>
<div style="left:179px;top:74px;width:44px;height:1px;background:#f06060"></div>
<div style="left:62px;top:50px;width:111px;height:22px;background:#fff;border:1px solid #b4b4b4;box-sizing:border-box"></div>
<div style="left:63px;top:51px;width:20px;height:20px;background:linear-gradient(#f2f2f2 0%,#ebebeb 50%,#dddddd 50%,#cfcfcf 100%);border-right:1px solid #b4b4b4;box-sizing:border-box"></div>
<div style="left:152px;top:51px;width:20px;height:20px;background:linear-gradient(#f2f2f2 0%,#ebebeb 50%,#dddddd 50%,#cfcfcf 100%);border-left:1px solid #b4b4b4;box-sizing:border-box"></div>
<svg width="1214" height="631" viewBox="0 0 1214 631">
<polygon points="70,59 76,59 73,62.5" fill="#4a5ab0"/><polygon points="159,62 165,62 162,58.5" fill="#4a5ab0"/>
<text x="20.23" y="66" font-size="12.4" fill="#fff" textLength="25.81" lengthAdjust="spacingAndGlyphs">SELL</text>
<text x="187.68" y="66" font-size="12.4" fill="#fff" textLength="23.77" lengthAdjust="spacingAndGlyphs">BUY</text>
<text x="124.10" y="66" font-size="12.4" fill="#000" textLength="24.36" lengthAdjust="spacingAndGlyphs">5.00</text>
<text x="28.07" y="104.85" font-size="13" fill="#fff" font-weight="bold" stroke="#fff" stroke-width="0.3" textLength="23.67" lengthAdjust="spacingAndGlyphs">1.33</text>
<text x="138.06" y="104.85" font-size="13" fill="#fff" font-weight="bold" stroke="#fff" stroke-width="0.3" textLength="23.99" lengthAdjust="spacingAndGlyphs">1.33</text>
<text x="54.34" y="105.4" font-size="34.5" fill="#fff" textLength="36.87" lengthAdjust="spacingAndGlyphs">11</text>
<text x="165.79" y="105.4" font-size="34.5" fill="#fff" textLength="35.77" lengthAdjust="spacingAndGlyphs">13</text>
<text x="95.06" y="88.65" font-size="12.6" fill="#fff" font-weight="bold" stroke="#fff" stroke-width="0.3" textLength="6.86" lengthAdjust="spacingAndGlyphs">1</text>
<text x="206.09" y="88.65" font-size="12.6" fill="#fff" font-weight="bold" stroke="#fff" stroke-width="0.3" textLength="6.97" lengthAdjust="spacingAndGlyphs">3</text>
</svg>
</body></html>
